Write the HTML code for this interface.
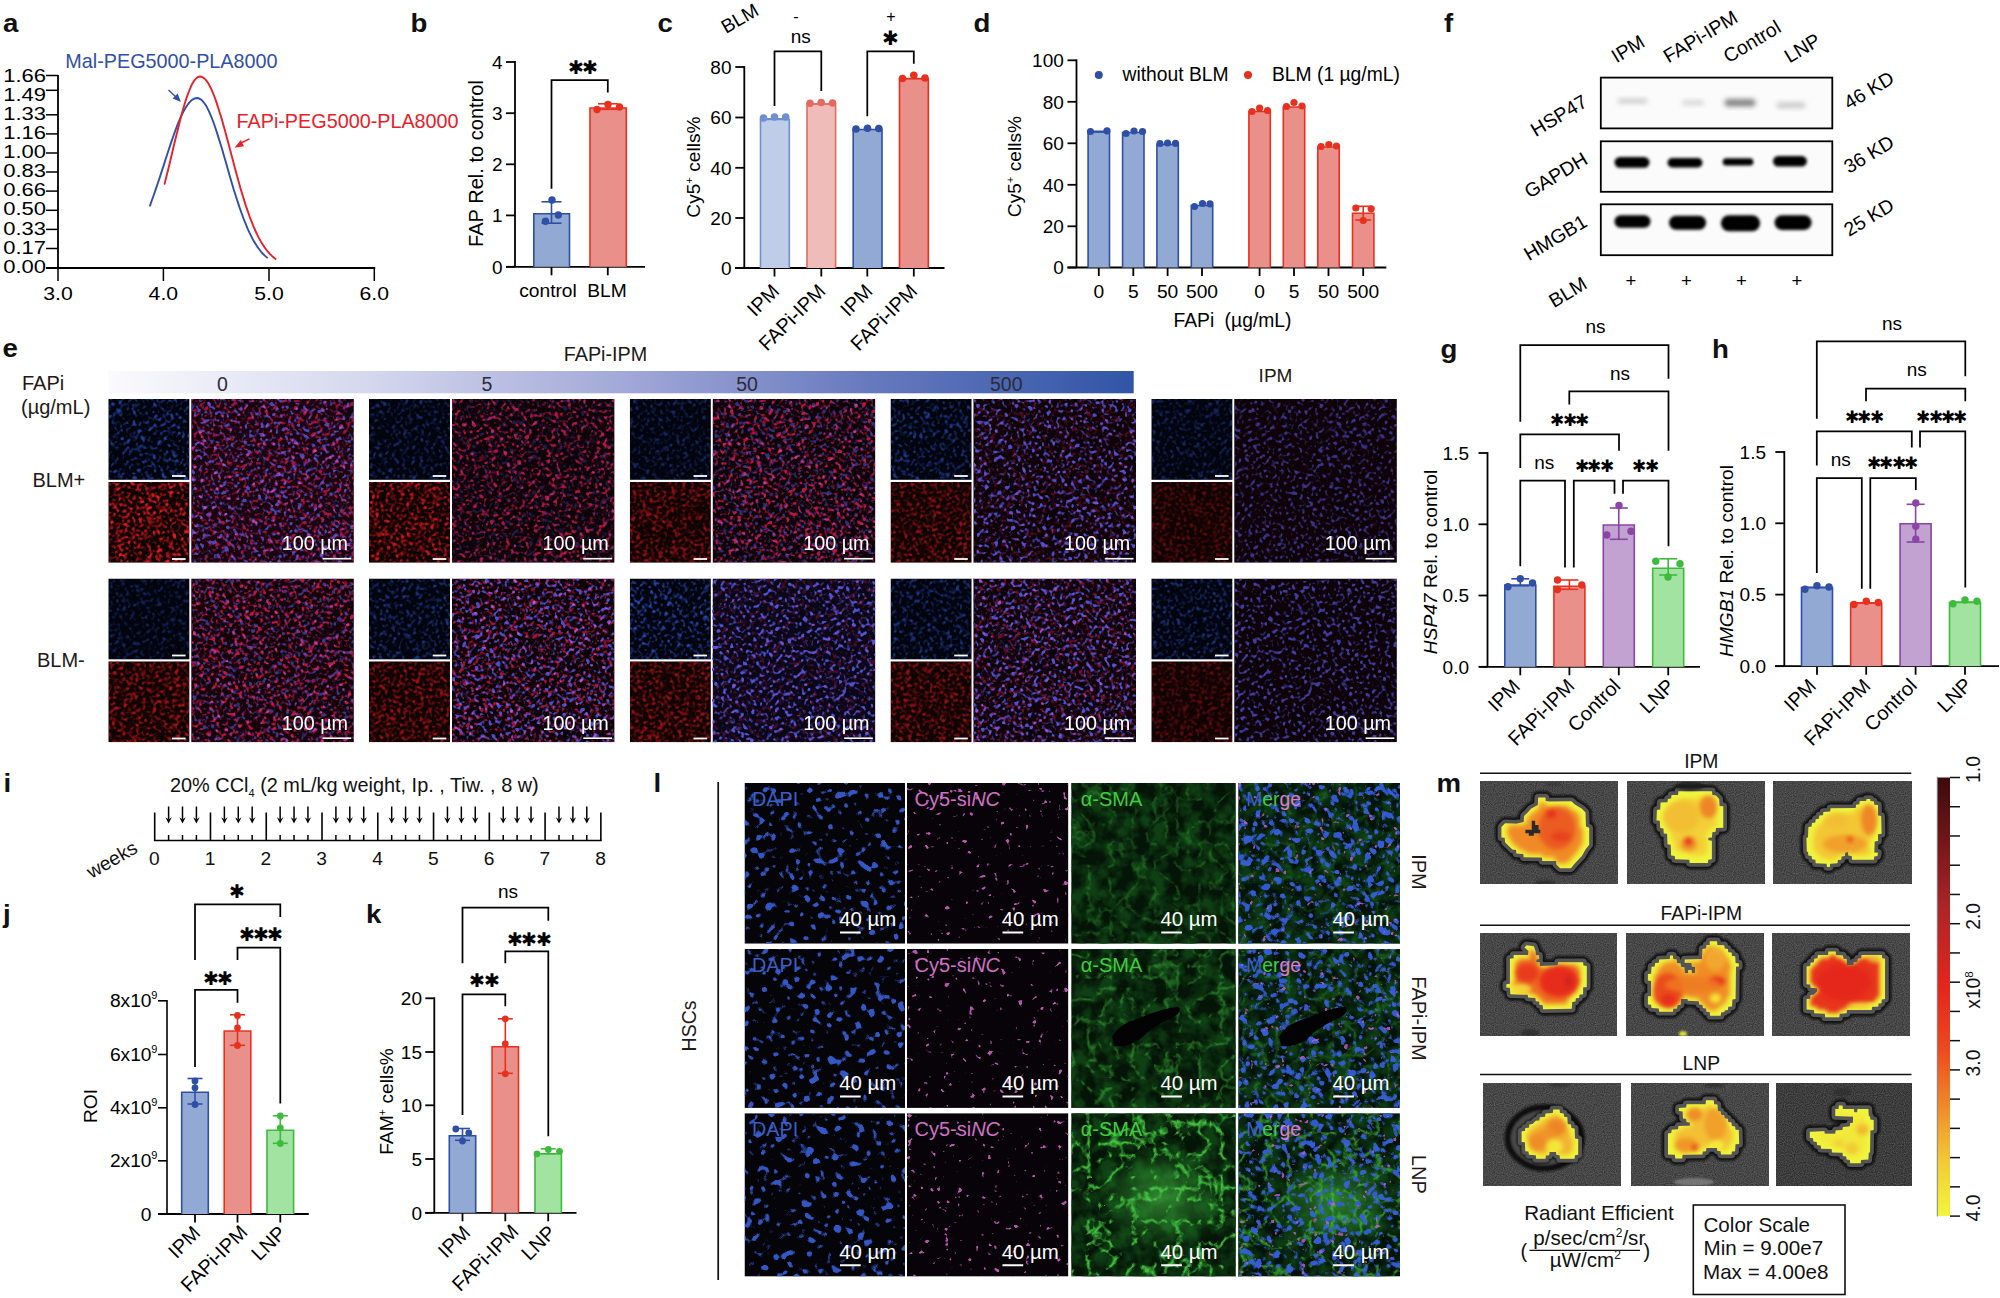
<!DOCTYPE html>
<html><head><meta charset="utf-8"><title>Figure</title>
<style>html,body{margin:0;padding:0;background:#fff}svg{display:block}text{font-family:'Liberation Sans',sans-serif}</style>
</head><body>
<svg width="2000" height="1298" viewBox="0 0 2000 1298">
<rect width="2000" height="1298" fill="#fff"/>
<line x1="58.00" y1="75.00" x2="58.00" y2="268.00" stroke="#000" stroke-width="1.8" />
<line x1="46.00" y1="268.00" x2="375.20" y2="268.00" stroke="#000" stroke-width="1.9" />
<line x1="46.00" y1="75.50" x2="58.00" y2="75.50" stroke="#000" stroke-width="1.5" />
<line x1="46.00" y1="90.30" x2="58.00" y2="90.30" stroke="#000" stroke-width="1.5" />
<line x1="46.00" y1="114.80" x2="58.00" y2="114.80" stroke="#000" stroke-width="1.5" />
<line x1="46.00" y1="133.90" x2="58.00" y2="133.90" stroke="#000" stroke-width="1.5" />
<line x1="46.00" y1="153.00" x2="58.00" y2="153.00" stroke="#000" stroke-width="1.5" />
<line x1="46.00" y1="172.00" x2="58.00" y2="172.00" stroke="#000" stroke-width="1.5" />
<line x1="46.00" y1="191.10" x2="58.00" y2="191.10" stroke="#000" stroke-width="1.5" />
<line x1="46.00" y1="210.30" x2="58.00" y2="210.30" stroke="#000" stroke-width="1.5" />
<line x1="46.00" y1="229.40" x2="58.00" y2="229.40" stroke="#000" stroke-width="1.5" />
<line x1="46.00" y1="248.50" x2="58.00" y2="248.50" stroke="#000" stroke-width="1.5" />
<text x="0" y="0" font-size="18.8" fill="#000" transform="translate(3.20 82.10) scale(1.17 1)" >1.66</text>
<text x="0" y="0" font-size="18.8" fill="#000" transform="translate(3.20 101.15) scale(1.17 1)" >1.49</text>
<text x="0" y="0" font-size="18.8" fill="#000" transform="translate(3.20 120.20) scale(1.17 1)" >1.33</text>
<text x="0" y="0" font-size="18.8" fill="#000" transform="translate(3.20 139.25) scale(1.17 1)" >1.16</text>
<text x="0" y="0" font-size="18.8" fill="#000" transform="translate(3.20 158.30) scale(1.17 1)" >1.00</text>
<text x="0" y="0" font-size="18.8" fill="#000" transform="translate(3.20 177.35) scale(1.17 1)" >0.83</text>
<text x="0" y="0" font-size="18.8" fill="#000" transform="translate(3.20 196.40) scale(1.17 1)" >0.66</text>
<text x="0" y="0" font-size="18.8" fill="#000" transform="translate(3.20 215.45) scale(1.17 1)" >0.50</text>
<text x="0" y="0" font-size="18.8" fill="#000" transform="translate(3.20 234.50) scale(1.17 1)" >0.33</text>
<text x="0" y="0" font-size="18.8" fill="#000" transform="translate(3.20 253.55) scale(1.17 1)" >0.17</text>
<text x="0" y="0" font-size="18.8" fill="#000" transform="translate(3.20 272.60) scale(1.17 1)" >0.00</text>
<line x1="58.00" y1="268.00" x2="58.00" y2="281.00" stroke="#000" stroke-width="1.5" />
<text x="0" y="0" font-size="18.6" fill="#000" transform="translate(43.20 299.60) scale(1.14 1)" >3.0</text>
<line x1="163.40" y1="268.00" x2="163.40" y2="281.00" stroke="#000" stroke-width="1.5" />
<text x="0" y="0" font-size="18.6" fill="#000" transform="translate(148.60 299.60) scale(1.14 1)" >4.0</text>
<line x1="269.00" y1="268.00" x2="269.00" y2="281.00" stroke="#000" stroke-width="1.5" />
<text x="0" y="0" font-size="18.6" fill="#000" transform="translate(254.20 299.60) scale(1.14 1)" >5.0</text>
<line x1="374.30" y1="268.00" x2="374.30" y2="281.00" stroke="#000" stroke-width="1.5" />
<text x="0" y="0" font-size="18.6" fill="#000" transform="translate(359.50 299.60) scale(1.14 1)" >6.0</text>
<path d="M150.0 205.6 L151.9 200.3 L153.9 194.8 L155.8 189.1 L157.8 183.3 L159.8 177.4 L161.7 171.4 L163.7 165.4 L165.6 159.3 L167.6 153.3 L169.5 147.4 L171.4 141.6 L173.4 136.0 L175.3 130.6 L177.3 125.4 L179.2 120.6 L181.2 116.2 L183.2 112.2 L185.1 108.6 L187.1 105.5 L189.0 102.9 L190.9 100.8 L192.9 99.3 L194.8 98.4 L196.8 98.0 L198.8 98.3 L200.7 99.3 L202.7 101.1 L204.6 103.5 L206.6 106.6 L208.5 110.4 L210.4 114.7 L212.4 119.5 L214.3 124.8 L216.3 130.6 L218.2 136.6 L220.2 143.0 L222.2 149.5 L224.1 156.2 L226.1 163.0 L228.0 169.8 L229.9 176.5 L231.9 183.2 L233.8 189.7 L235.8 196.0 L237.8 202.1 L239.7 207.9 L241.7 213.5 L243.6 218.8 L245.6 223.7 L247.5 228.3 L249.4 232.6 L251.4 236.6 L253.3 240.2 L255.3 243.6 L257.2 246.6 L259.2 249.3 L261.1 251.8 L263.1 254.0 L265.1 255.9 L267.0 257.6" fill="none" stroke="#2f50a8" stroke-width="1.9" stroke-linecap="round" stroke-linejoin="round"/>
<path d="M164.6 183.9 L166.4 176.5 L168.3 169.0 L170.2 161.3 L172.0 153.5 L173.8 145.8 L175.7 138.0 L177.6 130.4 L179.4 123.1 L181.2 116.0 L183.1 109.2 L184.9 103.0 L186.8 97.2 L188.7 92.0 L190.5 87.5 L192.3 83.7 L194.2 80.7 L196.1 78.5 L197.9 77.1 L199.8 76.5 L201.6 76.8 L203.4 77.7 L205.3 79.4 L207.2 81.7 L209.0 84.6 L210.9 88.2 L212.7 92.3 L214.6 97.0 L216.4 102.1 L218.2 107.7 L220.1 113.7 L222.0 119.9 L223.8 126.5 L225.7 133.2 L227.5 140.1 L229.4 147.1 L231.2 154.1 L233.1 161.1 L234.9 168.1 L236.8 174.9 L238.6 181.6 L240.4 188.1 L242.3 194.3 L244.2 200.4 L246.0 206.1 L247.9 211.6 L249.7 216.8 L251.6 221.7 L253.4 226.2 L255.3 230.5 L257.1 234.4 L259.0 238.1 L260.8 241.4 L262.7 244.5 L264.5 247.2 L266.4 249.8 L268.2 252.0 L270.1 254.1 L271.9 255.9 L273.8 257.5 L275.6 258.9" fill="none" stroke="#e8202a" stroke-width="1.9" stroke-linecap="round" stroke-linejoin="round"/>
<text x="65.30" y="68.30" font-size="19.8" fill="#2f50a8" >Mal-PEG5000-PLA8000</text>
<text x="236.50" y="128.00" font-size="19.8" fill="#e8202a" >FAPi-PEG5000-PLA8000</text>
<line x1="168.50" y1="90.00" x2="176.50" y2="97.50" stroke="#2f50a8" stroke-width="1.4" />
<path d="M181 102 L172.6 98.6 L177.6 93.4 Z" fill="#2f50a8"/>
<line x1="249.50" y1="138.80" x2="242.00" y2="142.50" stroke="#e8202a" stroke-width="1.4" />
<path d="M234.5 147.8 L240.8 140 L244 146.3 Z" fill="#e8202a"/>
<line x1="515.00" y1="61.10" x2="515.00" y2="266.80" stroke="#000" stroke-width="1.8" />
<line x1="506.00" y1="62.00" x2="515.00" y2="62.00" stroke="#000" stroke-width="1.8" />
<text x="502.50" y="68.75" font-size="19.0" fill="#000" text-anchor="end" >4</text>
<line x1="506.00" y1="113.20" x2="515.00" y2="113.20" stroke="#000" stroke-width="1.8" />
<text x="502.50" y="119.95" font-size="19.0" fill="#000" text-anchor="end" >3</text>
<line x1="506.00" y1="164.30" x2="515.00" y2="164.30" stroke="#000" stroke-width="1.8" />
<text x="502.50" y="171.05" font-size="19.0" fill="#000" text-anchor="end" >2</text>
<line x1="506.00" y1="215.40" x2="515.00" y2="215.40" stroke="#000" stroke-width="1.8" />
<text x="502.50" y="222.15" font-size="19.0" fill="#000" text-anchor="end" >1</text>
<line x1="506.00" y1="266.80" x2="515.00" y2="266.80" stroke="#000" stroke-width="1.8" />
<text x="502.50" y="273.55" font-size="19.0" fill="#000" text-anchor="end" >0</text>
<line x1="506.00" y1="266.80" x2="645.00" y2="266.80" stroke="#000" stroke-width="1.8" />
<line x1="551.50" y1="266.80" x2="551.50" y2="275.30" stroke="#000" stroke-width="1.8" />
<line x1="607.80" y1="266.80" x2="607.80" y2="275.30" stroke="#000" stroke-width="1.8" />
<text x="0" y="0" font-size="19.3" fill="#000" text-anchor="middle" transform="translate(483.00 163.50) rotate(-90) scale(1.04 1)" >FAP Rel. to control</text>
<rect x="533.80" y="213.80" width="35.70" height="53.00" fill="#92a9d4"/>
<path d="M533.80 266.80V213.80H569.50V266.80" fill="none" stroke="#2f4fa6" stroke-width="1.6" />
<rect x="590.00" y="108.00" width="36.30" height="158.80" fill="#e9908a"/>
<path d="M590.00 266.80V108.00H626.30V266.80" fill="none" stroke="#e8301f" stroke-width="1.6" />
<line x1="551.50" y1="201.80" x2="551.50" y2="223.20" stroke="#2f4fa6" stroke-width="1.6" />
<line x1="541.50" y1="201.80" x2="561.50" y2="201.80" stroke="#2f4fa6" stroke-width="1.6" />
<line x1="541.50" y1="223.20" x2="561.50" y2="223.20" stroke="#2f4fa6" stroke-width="1.6" />
<circle cx="552.00" cy="200.00" r="3.7" fill="#2f4fa6" />
<circle cx="558.30" cy="215.00" r="3.7" fill="#2f4fa6" />
<circle cx="545.50" cy="221.30" r="3.7" fill="#2f4fa6" />
<line x1="608.00" y1="103.80" x2="608.00" y2="109.30" stroke="#e8301f" stroke-width="1.6" />
<line x1="598.00" y1="103.80" x2="618.00" y2="103.80" stroke="#e8301f" stroke-width="1.6" />
<line x1="598.00" y1="109.30" x2="618.00" y2="109.30" stroke="#e8301f" stroke-width="1.6" />
<circle cx="597.00" cy="109.50" r="3.7" fill="#e8301f" />
<circle cx="608.00" cy="104.50" r="3.7" fill="#e8301f" />
<circle cx="619.50" cy="107.00" r="3.7" fill="#e8301f" />
<path d="M551.50 188.80V80.00H607.80V92.50" fill="none" stroke="#000" stroke-width="1.75" stroke-linejoin="miter"/>
<text x="567.87" y="74.33" font-size="19" fill="#000" font-family="'DejaVu Sans', sans-serif" letter-spacing="-1.62">✱✱</text>
<text x="548.00" y="296.50" font-size="19.2" fill="#000" text-anchor="middle" >control</text>
<text x="607.00" y="296.50" font-size="19.2" fill="#000" text-anchor="middle" >BLM</text>
<line x1="744.30" y1="66.10" x2="744.30" y2="268.00" stroke="#000" stroke-width="1.8" />
<line x1="735.30" y1="67.00" x2="744.30" y2="67.00" stroke="#000" stroke-width="1.8" />
<text x="731.50" y="73.75" font-size="19.0" fill="#000" text-anchor="end" >80</text>
<line x1="735.30" y1="117.50" x2="744.30" y2="117.50" stroke="#000" stroke-width="1.8" />
<text x="731.50" y="124.25" font-size="19.0" fill="#000" text-anchor="end" >60</text>
<line x1="735.30" y1="167.80" x2="744.30" y2="167.80" stroke="#000" stroke-width="1.8" />
<text x="731.50" y="174.55" font-size="19.0" fill="#000" text-anchor="end" >40</text>
<line x1="735.30" y1="218.00" x2="744.30" y2="218.00" stroke="#000" stroke-width="1.8" />
<text x="731.50" y="224.75" font-size="19.0" fill="#000" text-anchor="end" >20</text>
<line x1="735.30" y1="268.00" x2="744.30" y2="268.00" stroke="#000" stroke-width="1.8" />
<text x="731.50" y="274.75" font-size="19.0" fill="#000" text-anchor="end" >0</text>
<line x1="735.00" y1="268.00" x2="944.50" y2="268.00" stroke="#000" stroke-width="1.8" />
<line x1="774.50" y1="268.00" x2="774.50" y2="276.50" stroke="#000" stroke-width="1.8" />
<line x1="821.30" y1="268.00" x2="821.30" y2="276.50" stroke="#000" stroke-width="1.8" />
<line x1="867.30" y1="268.00" x2="867.30" y2="276.50" stroke="#000" stroke-width="1.8" />
<line x1="913.80" y1="268.00" x2="913.80" y2="276.50" stroke="#000" stroke-width="1.8" />
<text x="0" y="0" font-size="19.2" fill="#000" text-anchor="middle" transform="translate(699.50 167.00) rotate(-90)" >Cy5<tspan font-size="11" dy="-7">+</tspan><tspan dy="7"> cells%</tspan></text>
<rect x="760.50" y="119.50" width="28.80" height="148.50" fill="#bfcde8"/>
<path d="M760.50 268.00V119.50H789.30V268.00" fill="none" stroke="#6f8fd2" stroke-width="1.6" />
<rect x="807.00" y="104.00" width="28.60" height="164.00" fill="#f0bcb9"/>
<path d="M807.00 268.00V104.00H835.60V268.00" fill="none" stroke="#e26a62" stroke-width="1.6" />
<rect x="853.20" y="129.50" width="28.80" height="138.50" fill="#92a9d4"/>
<path d="M853.20 268.00V129.50H882.00V268.00" fill="none" stroke="#2f4fa6" stroke-width="1.6" />
<rect x="899.50" y="78.70" width="28.80" height="189.30" fill="#e9908a"/>
<path d="M899.50 268.00V78.70H928.30V268.00" fill="none" stroke="#e8301f" stroke-width="1.6" />
<line x1="763.50" y1="118.70" x2="785.50" y2="118.70" stroke="#6f8fd2" stroke-width="1.4" />
<circle cx="763.50" cy="118.00" r="3.8" fill="#6f8fd2" />
<circle cx="774.50" cy="117.00" r="3.8" fill="#6f8fd2" />
<circle cx="785.70" cy="117.00" r="3.8" fill="#6f8fd2" />
<line x1="810.00" y1="104.00" x2="832.50" y2="104.00" stroke="#e26a62" stroke-width="1.4" />
<circle cx="810.00" cy="103.20" r="3.8" fill="#e26a62" />
<circle cx="821.20" cy="102.50" r="3.8" fill="#e26a62" />
<circle cx="832.50" cy="103.00" r="3.8" fill="#e26a62" />
<circle cx="856.00" cy="129.00" r="3.8" fill="#2f4fa6" />
<circle cx="867.50" cy="128.30" r="3.8" fill="#2f4fa6" />
<circle cx="878.80" cy="128.50" r="3.8" fill="#2f4fa6" />
<line x1="902.50" y1="78.50" x2="925.00" y2="78.50" stroke="#e8301f" stroke-width="1.4" />
<circle cx="902.50" cy="78.50" r="3.8" fill="#e8301f" />
<circle cx="913.80" cy="75.20" r="3.8" fill="#e8301f" />
<circle cx="925.00" cy="78.00" r="3.8" fill="#e8301f" />
<path d="M774.50 106.00V51.30H821.30V91.00" fill="none" stroke="#000" stroke-width="1.75" stroke-linejoin="miter"/>
<path d="M867.30 116.20V51.30H913.80V63.80" fill="none" stroke="#000" stroke-width="1.75" stroke-linejoin="miter"/>
<text x="800.80" y="43.00" font-size="19" fill="#000" text-anchor="middle" >ns</text>
<text x="882.40" y="45.40" font-size="20" fill="#000" font-family="'DejaVu Sans', sans-serif" letter-spacing="-2.76">✱</text>
<text x="796.00" y="21.50" font-size="16" fill="#000" text-anchor="middle" >-</text>
<text x="891.00" y="21.50" font-size="16" fill="#000" text-anchor="middle" >+</text>
<text x="0" y="0" font-size="19.2" fill="#000" transform="translate(726.00 34.00) rotate(-30)" >BLM</text>
<text x="0" y="0" font-size="20" fill="#000" text-anchor="end" transform="translate(780.50 292.40) rotate(-45)" >IPM</text>
<text x="0" y="0" font-size="20" fill="#000" text-anchor="end" transform="translate(826.70 292.40) rotate(-45)" >FAPi-IPM</text>
<text x="0" y="0" font-size="20" fill="#000" text-anchor="end" transform="translate(873.70 292.40) rotate(-45)" >IPM</text>
<text x="0" y="0" font-size="20" fill="#000" text-anchor="end" transform="translate(918.50 292.40) rotate(-45)" >FAPi-IPM</text>
<line x1="1076.50" y1="59.40" x2="1076.50" y2="267.50" stroke="#000" stroke-width="1.8" />
<line x1="1067.50" y1="60.30" x2="1076.50" y2="60.30" stroke="#000" stroke-width="1.8" />
<text x="1063.80" y="67.05" font-size="19.0" fill="#000" text-anchor="end" >100</text>
<line x1="1067.50" y1="101.80" x2="1076.50" y2="101.80" stroke="#000" stroke-width="1.8" />
<text x="1063.80" y="108.55" font-size="19.0" fill="#000" text-anchor="end" >80</text>
<line x1="1067.50" y1="143.30" x2="1076.50" y2="143.30" stroke="#000" stroke-width="1.8" />
<text x="1063.80" y="150.05" font-size="19.0" fill="#000" text-anchor="end" >60</text>
<line x1="1067.50" y1="184.80" x2="1076.50" y2="184.80" stroke="#000" stroke-width="1.8" />
<text x="1063.80" y="191.55" font-size="19.0" fill="#000" text-anchor="end" >40</text>
<line x1="1067.50" y1="226.30" x2="1076.50" y2="226.30" stroke="#000" stroke-width="1.8" />
<text x="1063.80" y="233.05" font-size="19.0" fill="#000" text-anchor="end" >20</text>
<line x1="1067.50" y1="267.50" x2="1076.50" y2="267.50" stroke="#000" stroke-width="1.8" />
<text x="1063.80" y="274.25" font-size="19.0" fill="#000" text-anchor="end" >0</text>
<line x1="1067.50" y1="267.50" x2="1386.30" y2="267.50" stroke="#000" stroke-width="1.8" />
<line x1="1098.80" y1="267.50" x2="1098.80" y2="276.00" stroke="#000" stroke-width="1.8" />
<line x1="1133.30" y1="267.50" x2="1133.30" y2="276.00" stroke="#000" stroke-width="1.8" />
<line x1="1167.60" y1="267.50" x2="1167.60" y2="276.00" stroke="#000" stroke-width="1.8" />
<line x1="1202.00" y1="267.50" x2="1202.00" y2="276.00" stroke="#000" stroke-width="1.8" />
<line x1="1259.60" y1="267.50" x2="1259.60" y2="276.00" stroke="#000" stroke-width="1.8" />
<line x1="1294.00" y1="267.50" x2="1294.00" y2="276.00" stroke="#000" stroke-width="1.8" />
<line x1="1328.50" y1="267.50" x2="1328.50" y2="276.00" stroke="#000" stroke-width="1.8" />
<line x1="1363.20" y1="267.50" x2="1363.20" y2="276.00" stroke="#000" stroke-width="1.8" />
<text x="0" y="0" font-size="19.2" fill="#000" text-anchor="middle" transform="translate(1021.00 166.50) rotate(-90)" >Cy5<tspan font-size="11" dy="-7">+</tspan><tspan dy="7"> cells%</tspan></text>
<rect x="1088.10" y="132.00" width="21.40" height="135.50" fill="#92a9d4"/>
<path d="M1088.10 267.50V132.00H1109.50V267.50" fill="none" stroke="#2f4fa6" stroke-width="1.6" />
<rect x="1122.60" y="132.50" width="21.40" height="135.00" fill="#92a9d4"/>
<path d="M1122.60 267.50V132.50H1144.00V267.50" fill="none" stroke="#2f4fa6" stroke-width="1.6" />
<rect x="1156.90" y="144.50" width="21.40" height="123.00" fill="#92a9d4"/>
<path d="M1156.90 267.50V144.50H1178.30V267.50" fill="none" stroke="#2f4fa6" stroke-width="1.6" />
<rect x="1191.30" y="205.50" width="21.40" height="62.00" fill="#92a9d4"/>
<path d="M1191.30 267.50V205.50H1212.70V267.50" fill="none" stroke="#2f4fa6" stroke-width="1.6" />
<rect x="1248.90" y="111.50" width="21.40" height="156.00" fill="#e9908a"/>
<path d="M1248.90 267.50V111.50H1270.30V267.50" fill="none" stroke="#e8301f" stroke-width="1.6" />
<rect x="1283.30" y="107.00" width="21.40" height="160.50" fill="#e9908a"/>
<path d="M1283.30 267.50V107.00H1304.70V267.50" fill="none" stroke="#e8301f" stroke-width="1.6" />
<rect x="1317.80" y="147.00" width="21.40" height="120.50" fill="#e9908a"/>
<path d="M1317.80 267.50V147.00H1339.20V267.50" fill="none" stroke="#e8301f" stroke-width="1.6" />
<rect x="1352.50" y="213.30" width="21.40" height="54.20" fill="#e9908a"/>
<path d="M1352.50 267.50V213.30H1373.90V267.50" fill="none" stroke="#e8301f" stroke-width="1.6" />
<circle cx="1090.50" cy="131.50" r="3.6" fill="#2f4fa6" />
<circle cx="1107.00" cy="130.80" r="3.6" fill="#2f4fa6" />
<line x1="1090.50" y1="131.50" x2="1107.00" y2="131.50" stroke="#2f4fa6" stroke-width="2" />
<circle cx="1126.00" cy="133.50" r="3.6" fill="#2f4fa6" />
<circle cx="1134.00" cy="131.00" r="3.6" fill="#2f4fa6" />
<circle cx="1142.50" cy="131.50" r="3.6" fill="#2f4fa6" />
<circle cx="1160.00" cy="143.50" r="3.6" fill="#2f4fa6" />
<circle cx="1167.60" cy="143.00" r="3.6" fill="#2f4fa6" />
<circle cx="1175.50" cy="143.30" r="3.6" fill="#2f4fa6" />
<circle cx="1194.50" cy="206.50" r="3.6" fill="#2f4fa6" />
<circle cx="1202.50" cy="203.50" r="3.6" fill="#2f4fa6" />
<circle cx="1210.00" cy="203.80" r="3.6" fill="#2f4fa6" />
<circle cx="1252.00" cy="111.50" r="3.6" fill="#e8301f" />
<circle cx="1259.60" cy="108.00" r="3.6" fill="#e8301f" />
<circle cx="1267.50" cy="110.50" r="3.6" fill="#e8301f" />
<circle cx="1286.50" cy="106.50" r="3.6" fill="#e8301f" />
<circle cx="1294.00" cy="102.50" r="3.6" fill="#e8301f" />
<circle cx="1302.00" cy="106.00" r="3.6" fill="#e8301f" />
<circle cx="1321.00" cy="146.50" r="3.6" fill="#e8301f" />
<circle cx="1328.80" cy="144.50" r="3.6" fill="#e8301f" />
<circle cx="1336.50" cy="146.00" r="3.6" fill="#e8301f" />
<line x1="1363.20" y1="206.30" x2="1363.20" y2="220.00" stroke="#e8301f" stroke-width="1.6" />
<line x1="1355.20" y1="206.30" x2="1371.20" y2="206.30" stroke="#e8301f" stroke-width="1.6" />
<line x1="1355.20" y1="220.00" x2="1371.20" y2="220.00" stroke="#e8301f" stroke-width="1.6" />
<circle cx="1355.80" cy="208.00" r="3.6" fill="#e8301f" />
<circle cx="1371.20" cy="208.80" r="3.6" fill="#e8301f" />
<circle cx="1363.20" cy="220.50" r="3.6" fill="#e8301f" />
<text x="1098.80" y="297.50" font-size="19.2" fill="#000" text-anchor="middle" >0</text>
<text x="1133.30" y="297.50" font-size="19.2" fill="#000" text-anchor="middle" >5</text>
<text x="1167.60" y="297.50" font-size="19.2" fill="#000" text-anchor="middle" >50</text>
<text x="1202.00" y="297.50" font-size="19.2" fill="#000" text-anchor="middle" >500</text>
<text x="1259.60" y="297.50" font-size="19.2" fill="#000" text-anchor="middle" >0</text>
<text x="1294.00" y="297.50" font-size="19.2" fill="#000" text-anchor="middle" >5</text>
<text x="1328.50" y="297.50" font-size="19.2" fill="#000" text-anchor="middle" >50</text>
<text x="1363.20" y="297.50" font-size="19.2" fill="#000" text-anchor="middle" >500</text>
<text x="1232.50" y="326.50" font-size="19.3" fill="#000" text-anchor="middle" word-spacing="5">FAPi (µg/mL)</text>
<circle cx="1098.80" cy="75.00" r="4" fill="#2f4fa6" />
<text x="1122.50" y="81.30" font-size="19.3" fill="#000" >without BLM</text>
<circle cx="1248.00" cy="75.00" r="4" fill="#e8301f" />
<text x="1272.00" y="81.30" font-size="19.3" fill="#000" >BLM (1 µg/mL)</text>
<defs><filter id="bl2" x="-20%" y="-50%" width="140%" height="200%"><feGaussianBlur stdDeviation="1.6"/></filter><filter id="bl3" x="-20%" y="-60%" width="140%" height="220%"><feGaussianBlur stdDeviation="2.4"/></filter></defs>
<rect x="1600.80" y="77.60" width="231.50" height="50.80" fill="#fbfbfb" stroke="#000" stroke-width="1.8" />
<rect x="1600.80" y="141.30" width="231.50" height="50.50" fill="#fbfbfb" stroke="#000" stroke-width="1.8" />
<rect x="1600.80" y="204.30" width="231.50" height="50.90" fill="#fbfbfb" stroke="#000" stroke-width="1.8" />
<rect x="1617.5" y="98.5" width="30.0" height="5.0" rx="2.5" fill="#888" fill-opacity="0.4" filter="url(#bl3)"/>
<rect x="1682.0" y="100.3" width="22.0" height="5.0" rx="2.5" fill="#888" fill-opacity="0.33" filter="url(#bl3)"/>
<rect x="1724.5" y="99.0" width="31.0" height="7.5" rx="3.8" fill="#555" fill-opacity="0.7" filter="url(#bl3)"/>
<rect x="1776.5" y="102.3" width="29.0" height="6.0" rx="3.0" fill="#888" fill-opacity="0.42" filter="url(#bl3)"/>
<rect x="1614.5" y="156.9" width="35.0" height="10.9" rx="5.5" fill="#000" fill-opacity="1" filter="url(#bl2)"/>
<rect x="1667.5" y="158.1" width="35.0" height="9.4" rx="4.7" fill="#000" fill-opacity="1" filter="url(#bl2)"/>
<rect x="1722.7" y="158.3" width="30.7" height="7.3" rx="3.6" fill="#000" fill-opacity="1" filter="url(#bl2)"/>
<rect x="1773.0" y="156.1" width="33.9" height="10.4" rx="5.2" fill="#000" fill-opacity="1" filter="url(#bl2)"/>
<rect x="1614.5" y="215.2" width="36.0" height="12.5" rx="6.2" fill="#000" fill-opacity="1" filter="url(#bl2)"/>
<rect x="1669.0" y="215.8" width="37.1" height="14.0" rx="7.0" fill="#000" fill-opacity="1" filter="url(#bl2)"/>
<rect x="1720.9" y="215.2" width="39.2" height="16.1" rx="8.1" fill="#000" fill-opacity="1" filter="url(#bl2)"/>
<rect x="1774.5" y="215.3" width="37.1" height="14.6" rx="7.3" fill="#000" fill-opacity="1" filter="url(#bl2)"/>
<text x="0" y="0" font-size="19.5" fill="#000" transform="translate(1616.50 63.50) rotate(-31)" >IPM</text>
<text x="0" y="0" font-size="19.5" fill="#000" transform="translate(1668.50 63.50) rotate(-31)" >FAPi-IPM</text>
<text x="0" y="0" font-size="19.5" fill="#000" transform="translate(1728.50 63.50) rotate(-31)" >Control</text>
<text x="0" y="0" font-size="19.5" fill="#000" transform="translate(1789.50 63.50) rotate(-31)" >LNP</text>
<text x="0" y="0" font-size="19.5" fill="#000" text-anchor="end" transform="translate(1588.80 105.30) rotate(-31)" >HSP47</text>
<text x="0" y="0" font-size="19.5" fill="#000" text-anchor="end" transform="translate(1589.00 163.00) rotate(-31)" >GAPDH</text>
<text x="0" y="0" font-size="19.5" fill="#000" text-anchor="end" transform="translate(1588.50 225.50) rotate(-31)" >HMGB1</text>
<text x="0" y="0" font-size="19.5" fill="#000" text-anchor="end" transform="translate(1588.50 287.50) rotate(-31)" >BLM</text>
<text x="0" y="0" font-size="19.5" fill="#000" transform="translate(1849.00 110.00) rotate(-31)" >46 KD</text>
<text x="0" y="0" font-size="19.5" fill="#000" transform="translate(1849.00 174.00) rotate(-31)" >36 KD</text>
<text x="0" y="0" font-size="19.5" fill="#000" transform="translate(1849.00 237.00) rotate(-31)" >25 KD</text>
<text x="1630.80" y="287.00" font-size="18.5" fill="#000" text-anchor="middle" >+</text>
<text x="1686.30" y="287.00" font-size="18.5" fill="#000" text-anchor="middle" >+</text>
<text x="1741.50" y="287.00" font-size="18.5" fill="#000" text-anchor="middle" >+</text>
<text x="1797.00" y="287.00" font-size="18.5" fill="#000" text-anchor="middle" >+</text>
<defs>
<linearGradient id="gbar" x1="0" x2="1" y1="0" y2="0"><stop offset="0" stop-color="#fbfbfd"/><stop offset="0.25" stop-color="#d5d8ee"/><stop offset="0.5" stop-color="#a3a9d8"/><stop offset="0.75" stop-color="#6578bd"/><stop offset="1" stop-color="#3155a6"/></linearGradient>
<filter id="eb" x="-5%" y="-5%" width="110%" height="110%" color-interpolation-filters="sRGB">
 <feTurbulence type="fractalNoise" baseFrequency="0.7" numOctaves="1" seed="3"/><feGaussianBlur stdDeviation="0.8"/>
 <feColorMatrix type="matrix" values="0 0 0 0 0.18  0 0 0 0 0.36  0 0 0 0 0.88  20 0 0 0 -9.98"/>
</filter>
<filter id="er" x="-5%" y="-5%" width="110%" height="110%" color-interpolation-filters="sRGB">
 <feTurbulence type="fractalNoise" baseFrequency="0.7" numOctaves="1" seed="11"/><feGaussianBlur stdDeviation="0.8"/>
 <feColorMatrix type="matrix" values="0 0 0 0 0.88  0 0 0 0 0.10  0 0 0 0 0.12  20 0 0 0 -9.84"/>
</filter>
<filter id="emr" x="-5%" y="-5%" width="110%" height="110%" color-interpolation-filters="sRGB">
 <feTurbulence type="fractalNoise" baseFrequency="0.55" numOctaves="1" seed="5"/>
 <feGaussianBlur stdDeviation="1.2"/>
 <feColorMatrix type="matrix" values="0 0 0 0 0.92  0 0 0 0 0.10  0 0 0 0 0.32  22 0 0 0 -11.154"/>
</filter>
<filter id="emb" x="-5%" y="-5%" width="110%" height="110%" color-interpolation-filters="sRGB">
 <feTurbulence type="fractalNoise" baseFrequency="0.55" numOctaves="1" seed="5"/>
 <feGaussianBlur stdDeviation="1.2"/>
 <feColorMatrix type="matrix" values="0 0 0 0 0.28  0 0 0 0 0.30  0 0 0 0 0.82  0 22 0 0 -11.198"/>
</filter>
</defs>
<text x="22.00" y="390.30" font-size="20" fill="#231815" >FAPi</text>
<text x="21.00" y="413.70" font-size="20" fill="#231815" >(µg/mL)</text>
<text x="32.50" y="487.00" font-size="20" fill="#231815" >BLM+</text>
<text x="37.00" y="667.00" font-size="20" fill="#231815" >BLM-</text>
<text x="605.50" y="361.00" font-size="19.8" fill="#231815" text-anchor="middle" >FAPi-IPM</text>
<text x="1275.50" y="382.00" font-size="19" fill="#231815" text-anchor="middle" >IPM</text>
<rect x="108.30" y="371.00" width="1025.40" height="22.30" fill="url(#gbar)" />
<text x="222.50" y="390.50" font-size="19.5" fill="#2b2b3a" text-anchor="middle" >0</text>
<text x="487.00" y="390.50" font-size="19.5" fill="#2b2b3a" text-anchor="middle" >5</text>
<text x="747.00" y="390.50" font-size="19.5" fill="#2b2b3a" text-anchor="middle" >50</text>
<text x="1006.30" y="390.50" font-size="19.5" fill="#2b2b3a" text-anchor="middle" >500</text>
<clipPath id="eall"><rect x="108.3" y="399" width="245.6" height="163.8"/><rect x="369" y="399" width="245.6" height="163.8"/><rect x="629.8" y="399" width="245.6" height="163.8"/><rect x="890.5" y="399" width="245.6" height="163.8"/><rect x="1151.3" y="399" width="245.6" height="163.8"/><rect x="108.3" y="578.5" width="245.6" height="163.8"/><rect x="369" y="578.5" width="245.6" height="163.8"/><rect x="629.8" y="578.5" width="245.6" height="163.8"/><rect x="890.5" y="578.5" width="245.6" height="163.8"/><rect x="1151.3" y="578.5" width="245.6" height="163.8"/></clipPath><g clip-path="url(#eall)">
<rect x="108.30" y="399.00" width="81.00" height="80.80" fill="#03050e" />
<clipPath id="fc1"><rect x="108.30" y="399.00" width="81.00" height="80.80"/></clipPath>
<g clip-path="url(#fc1)"><rect x="108.30" y="399.00" width="81.00" height="80.80" fill="#000" filter="url(#eb)" opacity="0.6779999999999999"/></g>
<rect x="108.30" y="482.00" width="81.00" height="80.80" fill="#100303" />
<clipPath id="fc2"><rect x="108.30" y="482.00" width="81.00" height="80.80"/></clipPath>
<g clip-path="url(#fc2)"><rect x="108.30" y="482.00" width="81.00" height="80.80" fill="#000" filter="url(#er)" opacity="1"/></g>
<rect x="191.30" y="399.00" width="162.60" height="163.80" fill="#180510" />
<clipPath id="fc3"><rect x="191.30" y="399.00" width="162.60" height="163.80"/></clipPath>
<g clip-path="url(#fc3)"><rect x="191.30" y="399.00" width="162.60" height="163.80" fill="#000" filter="url(#emr)" opacity="0.68"/></g>
<clipPath id="fc4"><rect x="191.30" y="399.00" width="162.60" height="163.80"/></clipPath>
<g clip-path="url(#fc4)" style="mix-blend-mode:screen"><rect x="191.30" y="399.00" width="162.60" height="163.80" fill="#000" filter="url(#emb)" opacity="0.86"/></g>
<line x1="172.00" y1="476.00" x2="185.60" y2="476.00" stroke="#fff" stroke-width="1.8" />
<line x1="172.00" y1="559.00" x2="185.60" y2="559.00" stroke="#fff" stroke-width="1.8" />
<line x1="322.60" y1="558.70" x2="351.30" y2="558.70" stroke="#fff" stroke-width="1.6" />
<text x="348.10" y="550.30" font-size="19.8" fill="#fff" text-anchor="end" >100 µm</text>
<rect x="369.00" y="399.00" width="81.00" height="80.80" fill="#03050e" />
<clipPath id="fc5"><rect x="369.00" y="399.00" width="81.00" height="80.80"/></clipPath>
<g clip-path="url(#fc5)"><rect x="369.00" y="399.00" width="81.00" height="80.80" fill="#000" filter="url(#eb)" opacity="0.45199999999999996"/></g>
<rect x="369.00" y="482.00" width="81.00" height="80.80" fill="#100303" />
<clipPath id="fc6"><rect x="369.00" y="482.00" width="81.00" height="80.80"/></clipPath>
<g clip-path="url(#fc6)"><rect x="369.00" y="482.00" width="81.00" height="80.80" fill="#000" filter="url(#er)" opacity="0.8480000000000001"/></g>
<rect x="452.00" y="399.00" width="162.60" height="163.80" fill="#0d0308" />
<clipPath id="fc7"><rect x="452.00" y="399.00" width="162.60" height="163.80"/></clipPath>
<g clip-path="url(#fc7)"><rect x="452.00" y="399.00" width="162.60" height="163.80" fill="#000" filter="url(#emr)" opacity="0.74"/></g>
<clipPath id="fc8"><rect x="452.00" y="399.00" width="162.60" height="163.80"/></clipPath>
<g clip-path="url(#fc8)" style="mix-blend-mode:screen"><rect x="452.00" y="399.00" width="162.60" height="163.80" fill="#000" filter="url(#emb)" opacity="0.3"/></g>
<line x1="432.70" y1="476.00" x2="446.30" y2="476.00" stroke="#fff" stroke-width="1.8" />
<line x1="432.70" y1="559.00" x2="446.30" y2="559.00" stroke="#fff" stroke-width="1.8" />
<line x1="583.30" y1="558.70" x2="612.00" y2="558.70" stroke="#fff" stroke-width="1.6" />
<text x="608.80" y="550.30" font-size="19.8" fill="#fff" text-anchor="end" >100 µm</text>
<rect x="629.80" y="399.00" width="81.00" height="80.80" fill="#03050e" />
<clipPath id="fc9"><rect x="629.80" y="399.00" width="81.00" height="80.80"/></clipPath>
<g clip-path="url(#fc9)"><rect x="629.80" y="399.00" width="81.00" height="80.80" fill="#000" filter="url(#eb)" opacity="0.40679999999999994"/></g>
<rect x="629.80" y="482.00" width="81.00" height="80.80" fill="#100303" />
<clipPath id="fc10"><rect x="629.80" y="482.00" width="81.00" height="80.80"/></clipPath>
<g clip-path="url(#fc10)"><rect x="629.80" y="482.00" width="81.00" height="80.80" fill="#000" filter="url(#er)" opacity="0.5830000000000001"/></g>
<rect x="712.80" y="399.00" width="162.60" height="163.80" fill="#0d0308" />
<clipPath id="fc11"><rect x="712.80" y="399.00" width="162.60" height="163.80"/></clipPath>
<g clip-path="url(#fc11)"><rect x="712.80" y="399.00" width="162.60" height="163.80" fill="#000" filter="url(#emr)" opacity="0.79"/></g>
<clipPath id="fc12"><rect x="712.80" y="399.00" width="162.60" height="163.80"/></clipPath>
<g clip-path="url(#fc12)" style="mix-blend-mode:screen"><rect x="712.80" y="399.00" width="162.60" height="163.80" fill="#000" filter="url(#emb)" opacity="0.58"/></g>
<line x1="693.50" y1="476.00" x2="707.10" y2="476.00" stroke="#fff" stroke-width="1.8" />
<line x1="693.50" y1="559.00" x2="707.10" y2="559.00" stroke="#fff" stroke-width="1.8" />
<line x1="844.10" y1="558.70" x2="872.80" y2="558.70" stroke="#fff" stroke-width="1.6" />
<text x="869.60" y="550.30" font-size="19.8" fill="#fff" text-anchor="end" >100 µm</text>
<rect x="890.50" y="399.00" width="81.00" height="80.80" fill="#03050e" />
<clipPath id="fc13"><rect x="890.50" y="399.00" width="81.00" height="80.80"/></clipPath>
<g clip-path="url(#fc13)"><rect x="890.50" y="399.00" width="81.00" height="80.80" fill="#000" filter="url(#eb)" opacity="0.565"/></g>
<rect x="890.50" y="482.00" width="81.00" height="80.80" fill="#100303" />
<clipPath id="fc14"><rect x="890.50" y="482.00" width="81.00" height="80.80"/></clipPath>
<g clip-path="url(#fc14)"><rect x="890.50" y="482.00" width="81.00" height="80.80" fill="#000" filter="url(#er)" opacity="0.5830000000000001"/></g>
<rect x="973.50" y="399.00" width="162.60" height="163.80" fill="#0d0308" />
<clipPath id="fc15"><rect x="973.50" y="399.00" width="162.60" height="163.80"/></clipPath>
<g clip-path="url(#fc15)"><rect x="973.50" y="399.00" width="162.60" height="163.80" fill="#000" filter="url(#emr)" opacity="0.28"/></g>
<clipPath id="fc16"><rect x="973.50" y="399.00" width="162.60" height="163.80"/></clipPath>
<g clip-path="url(#fc16)" style="mix-blend-mode:screen"><rect x="973.50" y="399.00" width="162.60" height="163.80" fill="#000" filter="url(#emb)" opacity="0.98"/></g>
<line x1="954.20" y1="476.00" x2="967.80" y2="476.00" stroke="#fff" stroke-width="1.8" />
<line x1="954.20" y1="559.00" x2="967.80" y2="559.00" stroke="#fff" stroke-width="1.8" />
<line x1="1104.80" y1="558.70" x2="1133.50" y2="558.70" stroke="#fff" stroke-width="1.6" />
<text x="1130.30" y="550.30" font-size="19.8" fill="#fff" text-anchor="end" >100 µm</text>
<rect x="1151.30" y="399.00" width="81.00" height="80.80" fill="#03050e" />
<clipPath id="fc17"><rect x="1151.30" y="399.00" width="81.00" height="80.80"/></clipPath>
<g clip-path="url(#fc17)"><rect x="1151.30" y="399.00" width="81.00" height="80.80" fill="#000" filter="url(#eb)" opacity="0.40679999999999994"/></g>
<rect x="1151.30" y="482.00" width="81.00" height="80.80" fill="#100303" />
<clipPath id="fc18"><rect x="1151.30" y="482.00" width="81.00" height="80.80"/></clipPath>
<g clip-path="url(#fc18)"><rect x="1151.30" y="482.00" width="81.00" height="80.80" fill="#000" filter="url(#er)" opacity="0.371"/></g>
<rect x="1234.30" y="399.00" width="162.60" height="163.80" fill="#0d0308" />
<clipPath id="fc19"><rect x="1234.30" y="399.00" width="162.60" height="163.80"/></clipPath>
<g clip-path="url(#fc19)"><rect x="1234.30" y="399.00" width="162.60" height="163.80" fill="#000" filter="url(#emr)" opacity="0.05"/></g>
<clipPath id="fc20"><rect x="1234.30" y="399.00" width="162.60" height="163.80"/></clipPath>
<g clip-path="url(#fc20)" style="mix-blend-mode:screen"><rect x="1234.30" y="399.00" width="162.60" height="163.80" fill="#000" filter="url(#emb)" opacity="0.63"/></g>
<line x1="1215.00" y1="476.00" x2="1228.60" y2="476.00" stroke="#fff" stroke-width="1.8" />
<line x1="1215.00" y1="559.00" x2="1228.60" y2="559.00" stroke="#fff" stroke-width="1.8" />
<line x1="1365.60" y1="558.70" x2="1394.30" y2="558.70" stroke="#fff" stroke-width="1.6" />
<text x="1391.10" y="550.30" font-size="19.8" fill="#fff" text-anchor="end" >100 µm</text>
<rect x="108.30" y="578.50" width="81.00" height="80.80" fill="#03050e" />
<clipPath id="fc21"><rect x="108.30" y="578.50" width="81.00" height="80.80"/></clipPath>
<g clip-path="url(#fc21)"><rect x="108.30" y="578.50" width="81.00" height="80.80" fill="#000" filter="url(#eb)" opacity="0.3729"/></g>
<rect x="108.30" y="661.50" width="81.00" height="80.80" fill="#100303" />
<clipPath id="fc22"><rect x="108.30" y="661.50" width="81.00" height="80.80"/></clipPath>
<g clip-path="url(#fc22)"><rect x="108.30" y="661.50" width="81.00" height="80.80" fill="#000" filter="url(#er)" opacity="0.6890000000000001"/></g>
<rect x="191.30" y="578.50" width="162.60" height="163.80" fill="#14040a" />
<clipPath id="fc23"><rect x="191.30" y="578.50" width="162.60" height="163.80"/></clipPath>
<g clip-path="url(#fc23)"><rect x="191.30" y="578.50" width="162.60" height="163.80" fill="#000" filter="url(#emr)" opacity="0.8"/></g>
<clipPath id="fc24"><rect x="191.30" y="578.50" width="162.60" height="163.80"/></clipPath>
<g clip-path="url(#fc24)" style="mix-blend-mode:screen"><rect x="191.30" y="578.50" width="162.60" height="163.80" fill="#000" filter="url(#emb)" opacity="0.63"/></g>
<line x1="172.00" y1="655.50" x2="185.60" y2="655.50" stroke="#fff" stroke-width="1.8" />
<line x1="172.00" y1="738.50" x2="185.60" y2="738.50" stroke="#fff" stroke-width="1.8" />
<line x1="322.60" y1="738.20" x2="351.30" y2="738.20" stroke="#fff" stroke-width="1.6" />
<text x="348.10" y="729.80" font-size="19.8" fill="#fff" text-anchor="end" >100 µm</text>
<rect x="369.00" y="578.50" width="81.00" height="80.80" fill="#03050e" />
<clipPath id="fc25"><rect x="369.00" y="578.50" width="81.00" height="80.80"/></clipPath>
<g clip-path="url(#fc25)"><rect x="369.00" y="578.50" width="81.00" height="80.80" fill="#000" filter="url(#eb)" opacity="0.5423999999999999"/></g>
<rect x="369.00" y="661.50" width="81.00" height="80.80" fill="#100303" />
<clipPath id="fc26"><rect x="369.00" y="661.50" width="81.00" height="80.80"/></clipPath>
<g clip-path="url(#fc26)"><rect x="369.00" y="661.50" width="81.00" height="80.80" fill="#000" filter="url(#er)" opacity="0.636"/></g>
<rect x="452.00" y="578.50" width="162.60" height="163.80" fill="#0d0308" />
<clipPath id="fc27"><rect x="452.00" y="578.50" width="162.60" height="163.80"/></clipPath>
<g clip-path="url(#fc27)"><rect x="452.00" y="578.50" width="162.60" height="163.80" fill="#000" filter="url(#emr)" opacity="0.67"/></g>
<clipPath id="fc28"><rect x="452.00" y="578.50" width="162.60" height="163.80"/></clipPath>
<g clip-path="url(#fc28)" style="mix-blend-mode:screen"><rect x="452.00" y="578.50" width="162.60" height="163.80" fill="#000" filter="url(#emb)" opacity="0.98"/></g>
<line x1="432.70" y1="655.50" x2="446.30" y2="655.50" stroke="#fff" stroke-width="1.8" />
<line x1="432.70" y1="738.50" x2="446.30" y2="738.50" stroke="#fff" stroke-width="1.8" />
<line x1="583.30" y1="738.20" x2="612.00" y2="738.20" stroke="#fff" stroke-width="1.6" />
<text x="608.80" y="729.80" font-size="19.8" fill="#fff" text-anchor="end" >100 µm</text>
<rect x="629.80" y="578.50" width="81.00" height="80.80" fill="#03050e" />
<clipPath id="fc29"><rect x="629.80" y="578.50" width="81.00" height="80.80"/></clipPath>
<g clip-path="url(#fc29)"><rect x="629.80" y="578.50" width="81.00" height="80.80" fill="#000" filter="url(#eb)" opacity="0.7684"/></g>
<rect x="629.80" y="661.50" width="81.00" height="80.80" fill="#100303" />
<clipPath id="fc30"><rect x="629.80" y="661.50" width="81.00" height="80.80"/></clipPath>
<g clip-path="url(#fc30)"><rect x="629.80" y="661.50" width="81.00" height="80.80" fill="#000" filter="url(#er)" opacity="0.636"/></g>
<rect x="712.80" y="578.50" width="162.60" height="163.80" fill="#0a0818" />
<clipPath id="fc31"><rect x="712.80" y="578.50" width="162.60" height="163.80"/></clipPath>
<g clip-path="url(#fc31)"><rect x="712.80" y="578.50" width="162.60" height="163.80" fill="#000" filter="url(#emr)" opacity="0.27"/></g>
<clipPath id="fc32"><rect x="712.80" y="578.50" width="162.60" height="163.80"/></clipPath>
<g clip-path="url(#fc32)" style="mix-blend-mode:screen"><rect x="712.80" y="578.50" width="162.60" height="163.80" fill="#000" filter="url(#emb)" opacity="1"/></g>
<line x1="693.50" y1="655.50" x2="707.10" y2="655.50" stroke="#fff" stroke-width="1.8" />
<line x1="693.50" y1="738.50" x2="707.10" y2="738.50" stroke="#fff" stroke-width="1.8" />
<line x1="844.10" y1="738.20" x2="872.80" y2="738.20" stroke="#fff" stroke-width="1.6" />
<text x="869.60" y="729.80" font-size="19.8" fill="#fff" text-anchor="end" >100 µm</text>
<rect x="890.50" y="578.50" width="81.00" height="80.80" fill="#03050e" />
<clipPath id="fc33"><rect x="890.50" y="578.50" width="81.00" height="80.80"/></clipPath>
<g clip-path="url(#fc33)"><rect x="890.50" y="578.50" width="81.00" height="80.80" fill="#000" filter="url(#eb)" opacity="0.5423999999999999"/></g>
<rect x="890.50" y="661.50" width="81.00" height="80.80" fill="#100303" />
<clipPath id="fc34"><rect x="890.50" y="661.50" width="81.00" height="80.80"/></clipPath>
<g clip-path="url(#fc34)"><rect x="890.50" y="661.50" width="81.00" height="80.80" fill="#000" filter="url(#er)" opacity="0.5830000000000001"/></g>
<rect x="973.50" y="578.50" width="162.60" height="163.80" fill="#0d040c" />
<clipPath id="fc35"><rect x="973.50" y="578.50" width="162.60" height="163.80"/></clipPath>
<g clip-path="url(#fc35)"><rect x="973.50" y="578.50" width="162.60" height="163.80" fill="#000" filter="url(#emr)" opacity="0.45"/></g>
<clipPath id="fc36"><rect x="973.50" y="578.50" width="162.60" height="163.80"/></clipPath>
<g clip-path="url(#fc36)" style="mix-blend-mode:screen"><rect x="973.50" y="578.50" width="162.60" height="163.80" fill="#000" filter="url(#emb)" opacity="1"/></g>
<line x1="954.20" y1="655.50" x2="967.80" y2="655.50" stroke="#fff" stroke-width="1.8" />
<line x1="954.20" y1="738.50" x2="967.80" y2="738.50" stroke="#fff" stroke-width="1.8" />
<line x1="1104.80" y1="738.20" x2="1133.50" y2="738.20" stroke="#fff" stroke-width="1.6" />
<text x="1130.30" y="729.80" font-size="19.8" fill="#fff" text-anchor="end" >100 µm</text>
<rect x="1151.30" y="578.50" width="81.00" height="80.80" fill="#03050e" />
<clipPath id="fc37"><rect x="1151.30" y="578.50" width="81.00" height="80.80"/></clipPath>
<g clip-path="url(#fc37)"><rect x="1151.30" y="578.50" width="81.00" height="80.80" fill="#000" filter="url(#eb)" opacity="0.5085"/></g>
<rect x="1151.30" y="661.50" width="81.00" height="80.80" fill="#100303" />
<clipPath id="fc38"><rect x="1151.30" y="661.50" width="81.00" height="80.80"/></clipPath>
<g clip-path="url(#fc38)"><rect x="1151.30" y="661.50" width="81.00" height="80.80" fill="#000" filter="url(#er)" opacity="0.371"/></g>
<rect x="1234.30" y="578.50" width="162.60" height="163.80" fill="#0d0308" />
<clipPath id="fc39"><rect x="1234.30" y="578.50" width="162.60" height="163.80"/></clipPath>
<g clip-path="url(#fc39)"><rect x="1234.30" y="578.50" width="162.60" height="163.80" fill="#000" filter="url(#emr)" opacity="0.0"/></g>
<clipPath id="fc40"><rect x="1234.30" y="578.50" width="162.60" height="163.80"/></clipPath>
<g clip-path="url(#fc40)" style="mix-blend-mode:screen"><rect x="1234.30" y="578.50" width="162.60" height="163.80" fill="#000" filter="url(#emb)" opacity="0.77"/></g>
<line x1="1215.00" y1="655.50" x2="1228.60" y2="655.50" stroke="#fff" stroke-width="1.8" />
<line x1="1215.00" y1="738.50" x2="1228.60" y2="738.50" stroke="#fff" stroke-width="1.8" />
<line x1="1365.60" y1="738.20" x2="1394.30" y2="738.20" stroke="#fff" stroke-width="1.6" />
<text x="1391.10" y="729.80" font-size="19.8" fill="#fff" text-anchor="end" >100 µm</text>
</g>
<line x1="1487.50" y1="452.10" x2="1487.50" y2="666.80" stroke="#000" stroke-width="1.8" />
<line x1="1478.50" y1="453.00" x2="1487.50" y2="453.00" stroke="#000" stroke-width="1.8" />
<text x="1469.00" y="459.75" font-size="19.0" fill="#000" text-anchor="end" >1.5</text>
<line x1="1478.50" y1="524.30" x2="1487.50" y2="524.30" stroke="#000" stroke-width="1.8" />
<text x="1469.00" y="531.04" font-size="19.0" fill="#000" text-anchor="end" >1.0</text>
<line x1="1478.50" y1="595.50" x2="1487.50" y2="595.50" stroke="#000" stroke-width="1.8" />
<text x="1469.00" y="602.25" font-size="19.0" fill="#000" text-anchor="end" >0.5</text>
<line x1="1478.50" y1="666.80" x2="1487.50" y2="666.80" stroke="#000" stroke-width="1.8" />
<text x="1469.00" y="673.54" font-size="19.0" fill="#000" text-anchor="end" >0.0</text>
<line x1="1479.50" y1="666.80" x2="1700.00" y2="666.80" stroke="#000" stroke-width="1.8" />
<line x1="1520.30" y1="666.80" x2="1520.30" y2="675.30" stroke="#000" stroke-width="1.8" />
<line x1="1569.40" y1="666.80" x2="1569.40" y2="675.30" stroke="#000" stroke-width="1.8" />
<line x1="1618.80" y1="666.80" x2="1618.80" y2="675.30" stroke="#000" stroke-width="1.8" />
<line x1="1668.20" y1="666.80" x2="1668.20" y2="675.30" stroke="#000" stroke-width="1.8" />
<text x="0" y="0" font-size="19.2" fill="#000" text-anchor="middle" transform="translate(1437.00 562.00) rotate(-90)" ><tspan font-style="italic">HSP47</tspan> Rel. to control</text>
<rect x="1504.80" y="585.00" width="31.00" height="81.80" fill="#92a9d4"/>
<path d="M1504.80 666.80V585.00H1535.80V666.80" fill="none" stroke="#2f4fa6" stroke-width="1.6" />
<rect x="1553.90" y="586.30" width="31.00" height="80.50" fill="#e9908a"/>
<path d="M1553.90 666.80V586.30H1584.90V666.80" fill="none" stroke="#e8301f" stroke-width="1.6" />
<rect x="1603.30" y="525.00" width="31.00" height="141.80" fill="#c1a2d0"/>
<path d="M1603.30 666.80V525.00H1634.30V666.80" fill="none" stroke="#8a45a5" stroke-width="1.6" />
<rect x="1652.70" y="568.30" width="31.00" height="98.50" fill="#a2e3a2"/>
<path d="M1652.70 666.80V568.30H1683.70V666.80" fill="none" stroke="#3dbb3d" stroke-width="1.6" />
<line x1="1520.30" y1="578.80" x2="1520.30" y2="585.80" stroke="#2f4fa6" stroke-width="1.6" />
<line x1="1511.30" y1="578.80" x2="1529.30" y2="578.80" stroke="#2f4fa6" stroke-width="1.6" />
<line x1="1511.30" y1="585.80" x2="1529.30" y2="585.80" stroke="#2f4fa6" stroke-width="1.6" />
<circle cx="1508.00" cy="586.80" r="3.7" fill="#2f4fa6" />
<circle cx="1520.30" cy="578.80" r="3.7" fill="#2f4fa6" />
<circle cx="1532.50" cy="583.00" r="3.7" fill="#2f4fa6" />
<line x1="1569.40" y1="580.00" x2="1569.40" y2="589.30" stroke="#e8301f" stroke-width="1.6" />
<line x1="1560.40" y1="580.00" x2="1578.40" y2="580.00" stroke="#e8301f" stroke-width="1.6" />
<line x1="1560.40" y1="589.30" x2="1578.40" y2="589.30" stroke="#e8301f" stroke-width="1.6" />
<circle cx="1557.50" cy="580.00" r="3.7" fill="#e8301f" />
<circle cx="1557.50" cy="589.50" r="3.7" fill="#e8301f" />
<circle cx="1581.80" cy="585.00" r="3.7" fill="#e8301f" />
<line x1="1618.80" y1="508.00" x2="1618.80" y2="539.30" stroke="#8a45a5" stroke-width="1.6" />
<line x1="1609.80" y1="508.00" x2="1627.80" y2="508.00" stroke="#8a45a5" stroke-width="1.6" />
<line x1="1609.80" y1="539.30" x2="1627.80" y2="539.30" stroke="#8a45a5" stroke-width="1.6" />
<circle cx="1619.00" cy="505.50" r="3.7" fill="#8a45a5" />
<circle cx="1631.00" cy="531.30" r="3.7" fill="#8a45a5" />
<circle cx="1606.80" cy="535.00" r="3.7" fill="#8a45a5" />
<line x1="1668.20" y1="558.80" x2="1668.20" y2="575.00" stroke="#3dbb3d" stroke-width="1.6" />
<line x1="1659.20" y1="558.80" x2="1677.20" y2="558.80" stroke="#3dbb3d" stroke-width="1.6" />
<line x1="1659.20" y1="575.00" x2="1677.20" y2="575.00" stroke="#3dbb3d" stroke-width="1.6" />
<circle cx="1655.80" cy="561.30" r="3.7" fill="#3dbb3d" />
<circle cx="1680.00" cy="563.80" r="3.7" fill="#3dbb3d" />
<circle cx="1668.00" cy="577.00" r="3.7" fill="#3dbb3d" />
<path d="M1520.30 566.30V480.50H1565.00V567.50" fill="none" stroke="#000" stroke-width="1.75" stroke-linejoin="miter"/>
<path d="M1573.80 567.50V480.50H1614.50V493.80" fill="none" stroke="#000" stroke-width="1.75" stroke-linejoin="miter"/>
<path d="M1623.00 493.80V480.50H1668.50V546.30" fill="none" stroke="#000" stroke-width="1.75" stroke-linejoin="miter"/>
<path d="M1520.30 468.00V434.30H1619.00V450.80" fill="none" stroke="#000" stroke-width="1.75" stroke-linejoin="miter"/>
<path d="M1569.30 404.50V391.30H1668.50V450.80" fill="none" stroke="#000" stroke-width="1.75" stroke-linejoin="miter"/>
<path d="M1520.30 421.80V345.00H1668.50V378.80" fill="none" stroke="#000" stroke-width="1.75" stroke-linejoin="miter"/>
<text x="1544.30" y="468.80" font-size="19" fill="#000" text-anchor="middle" >ns</text>
<text x="1574.74" y="471.72" font-size="16.8" fill="#000" font-family="'DejaVu Sans', sans-serif" letter-spacing="-1.38">✱✱✱</text>
<text x="1632.39" y="471.72" font-size="16.8" fill="#000" font-family="'DejaVu Sans', sans-serif" letter-spacing="-1.38">✱✱</text>
<text x="1550.24" y="425.72" font-size="16.8" fill="#000" font-family="'DejaVu Sans', sans-serif" letter-spacing="-1.38">✱✱✱</text>
<text x="1620.00" y="379.50" font-size="19" fill="#000" text-anchor="middle" >ns</text>
<text x="1595.50" y="333.30" font-size="19" fill="#000" text-anchor="middle" >ns</text>
<text x="0" y="0" font-size="20" fill="#000" text-anchor="end" transform="translate(1521.30 687.60) rotate(-45)" >IPM</text>
<text x="0" y="0" font-size="20" fill="#000" text-anchor="end" transform="translate(1575.90 687.30) rotate(-45)" >FAPi-IPM</text>
<text x="0" y="0" font-size="20" fill="#000" text-anchor="end" transform="translate(1621.70 687.30) rotate(-45)" >Control</text>
<text x="0" y="0" font-size="20" fill="#000" text-anchor="end" transform="translate(1675.60 687.20) rotate(-45)" >LNP</text>
<line x1="1784.30" y1="451.10" x2="1784.30" y2="666.20" stroke="#000" stroke-width="1.8" />
<line x1="1775.30" y1="452.00" x2="1784.30" y2="452.00" stroke="#000" stroke-width="1.8" />
<text x="1766.00" y="458.75" font-size="19.0" fill="#000" text-anchor="end" >1.5</text>
<line x1="1775.30" y1="523.30" x2="1784.30" y2="523.30" stroke="#000" stroke-width="1.8" />
<text x="1766.00" y="530.04" font-size="19.0" fill="#000" text-anchor="end" >1.0</text>
<line x1="1775.30" y1="594.60" x2="1784.30" y2="594.60" stroke="#000" stroke-width="1.8" />
<text x="1766.00" y="601.35" font-size="19.0" fill="#000" text-anchor="end" >0.5</text>
<line x1="1775.30" y1="666.20" x2="1784.30" y2="666.20" stroke="#000" stroke-width="1.8" />
<text x="1766.00" y="672.95" font-size="19.0" fill="#000" text-anchor="end" >0.0</text>
<line x1="1775.00" y1="666.20" x2="1999.00" y2="666.20" stroke="#000" stroke-width="1.8" />
<line x1="1817.00" y1="666.20" x2="1817.00" y2="674.70" stroke="#000" stroke-width="1.8" />
<line x1="1866.20" y1="666.20" x2="1866.20" y2="674.70" stroke="#000" stroke-width="1.8" />
<line x1="1915.60" y1="666.20" x2="1915.60" y2="674.70" stroke="#000" stroke-width="1.8" />
<line x1="1965.00" y1="666.20" x2="1965.00" y2="674.70" stroke="#000" stroke-width="1.8" />
<text x="0" y="0" font-size="19.2" fill="#000" text-anchor="middle" transform="translate(1733.00 561.00) rotate(-90)" ><tspan font-style="italic">HMGB1</tspan> Rel. to control</text>
<rect x="1801.50" y="587.60" width="31.00" height="78.60" fill="#92a9d4"/>
<path d="M1801.50 666.20V587.60H1832.50V666.20" fill="none" stroke="#2f4fa6" stroke-width="1.6" />
<rect x="1850.70" y="603.20" width="31.00" height="63.00" fill="#e9908a"/>
<path d="M1850.70 666.20V603.20H1881.70V666.20" fill="none" stroke="#e8301f" stroke-width="1.6" />
<rect x="1900.10" y="523.80" width="31.00" height="142.40" fill="#c1a2d0"/>
<path d="M1900.10 666.20V523.80H1931.10V666.20" fill="none" stroke="#8a45a5" stroke-width="1.6" />
<rect x="1949.50" y="602.50" width="31.00" height="63.70" fill="#a2e3a2"/>
<path d="M1949.50 666.20V602.50H1980.50V666.20" fill="none" stroke="#3dbb3d" stroke-width="1.6" />
<line x1="1805.00" y1="587.30" x2="1829.00" y2="587.30" stroke="#2f4fa6" stroke-width="1.4" />
<circle cx="1805.00" cy="589.30" r="3.7" fill="#2f4fa6" />
<circle cx="1817.00" cy="585.80" r="3.7" fill="#2f4fa6" />
<circle cx="1829.00" cy="587.00" r="3.7" fill="#2f4fa6" />
<line x1="1854.00" y1="602.80" x2="1878.30" y2="602.80" stroke="#e8301f" stroke-width="1.4" />
<circle cx="1854.00" cy="604.50" r="3.7" fill="#e8301f" />
<circle cx="1866.30" cy="601.30" r="3.7" fill="#e8301f" />
<circle cx="1878.30" cy="602.50" r="3.7" fill="#e8301f" />
<line x1="1915.60" y1="504.30" x2="1915.60" y2="542.00" stroke="#8a45a5" stroke-width="1.6" />
<line x1="1906.60" y1="504.30" x2="1924.60" y2="504.30" stroke="#8a45a5" stroke-width="1.6" />
<line x1="1906.60" y1="542.00" x2="1924.60" y2="542.00" stroke="#8a45a5" stroke-width="1.6" />
<circle cx="1915.80" cy="503.00" r="3.7" fill="#8a45a5" />
<circle cx="1915.80" cy="526.30" r="3.7" fill="#8a45a5" />
<circle cx="1915.80" cy="539.30" r="3.7" fill="#8a45a5" />
<line x1="1953.00" y1="602.00" x2="1977.00" y2="602.00" stroke="#3dbb3d" stroke-width="1.4" />
<circle cx="1953.00" cy="603.80" r="3.7" fill="#3dbb3d" />
<circle cx="1965.00" cy="600.00" r="3.7" fill="#3dbb3d" />
<circle cx="1977.00" cy="601.30" r="3.7" fill="#3dbb3d" />
<path d="M1816.80 573.00V478.00H1861.80V588.80" fill="none" stroke="#000" stroke-width="1.75" stroke-linejoin="miter"/>
<path d="M1870.30 588.80V478.00H1915.80V490.00" fill="none" stroke="#000" stroke-width="1.75" stroke-linejoin="miter"/>
<path d="M1816.80 465.50V431.30H1911.80V447.50" fill="none" stroke="#000" stroke-width="1.75" stroke-linejoin="miter"/>
<path d="M1920.00 447.50V431.30H1965.30V587.50" fill="none" stroke="#000" stroke-width="1.75" stroke-linejoin="miter"/>
<path d="M1866.00 401.30V388.50H1965.30V401.30" fill="none" stroke="#000" stroke-width="1.75" stroke-linejoin="miter"/>
<path d="M1816.80 418.80V341.30H1965.30V376.30" fill="none" stroke="#000" stroke-width="1.75" stroke-linejoin="miter"/>
<text x="1840.80" y="465.50" font-size="19" fill="#000" text-anchor="middle" >ns</text>
<text x="1866.69" y="468.72" font-size="16.8" fill="#000" font-family="'DejaVu Sans', sans-serif" letter-spacing="-1.58">✱✱✱✱</text>
<text x="1844.54" y="422.52" font-size="16.8" fill="#000" font-family="'DejaVu Sans', sans-serif" letter-spacing="-1.38">✱✱✱</text>
<text x="1916.19" y="422.52" font-size="16.8" fill="#000" font-family="'DejaVu Sans', sans-serif" letter-spacing="-1.58">✱✱✱✱</text>
<text x="1916.80" y="376.30" font-size="19" fill="#000" text-anchor="middle" >ns</text>
<text x="1892.00" y="329.50" font-size="19" fill="#000" text-anchor="middle" >ns</text>
<text x="0" y="0" font-size="20" fill="#000" text-anchor="end" transform="translate(1817.40 687.30) rotate(-45)" >IPM</text>
<text x="0" y="0" font-size="20" fill="#000" text-anchor="end" transform="translate(1871.90 687.30) rotate(-45)" >FAPi-IPM</text>
<text x="0" y="0" font-size="20" fill="#000" text-anchor="end" transform="translate(1918.20 686.90) rotate(-45)" >Control</text>
<text x="0" y="0" font-size="20" fill="#000" text-anchor="end" transform="translate(1973.10 686.20) rotate(-45)" >LNP</text>
<text x="170.00" y="791.80" font-size="19.9" fill="#111" >20% CCl<tspan font-size="11" dy="5">4</tspan><tspan dy="-5"> (2 mL/kg weight, Ip. , Tiw. , 8 w)</tspan></text>
<line x1="153.90" y1="840.50" x2="601.66" y2="840.50" stroke="#000" stroke-width="1.6" />
<line x1="154.70" y1="812.50" x2="154.70" y2="840.50" stroke="#000" stroke-width="1.6" />
<text x="154.40" y="865.20" font-size="19.2" fill="#111" text-anchor="middle" >0</text>
<line x1="168.60" y1="835.00" x2="168.60" y2="840.50" stroke="#000" stroke-width="1.5" />
<line x1="168.60" y1="806.50" x2="168.60" y2="819.50" stroke="#000" stroke-width="1.5" />
<path d="M165.4 817.2 L168.6 823.5 L171.8 817.2 L168.6 819.4 Z" fill="#000"/>
<line x1="182.50" y1="835.00" x2="182.50" y2="840.50" stroke="#000" stroke-width="1.5" />
<line x1="182.50" y1="806.50" x2="182.50" y2="819.50" stroke="#000" stroke-width="1.5" />
<path d="M179.3 817.2 L182.5 823.5 L185.7 817.2 L182.5 819.4 Z" fill="#000"/>
<line x1="196.40" y1="835.00" x2="196.40" y2="840.50" stroke="#000" stroke-width="1.5" />
<line x1="196.40" y1="806.50" x2="196.40" y2="819.50" stroke="#000" stroke-width="1.5" />
<path d="M193.2 817.2 L196.4 823.5 L199.6 817.2 L196.4 819.4 Z" fill="#000"/>
<line x1="210.47" y1="812.50" x2="210.47" y2="840.50" stroke="#000" stroke-width="1.6" />
<text x="210.17" y="865.20" font-size="19.2" fill="#111" text-anchor="middle" >1</text>
<line x1="224.37" y1="835.00" x2="224.37" y2="840.50" stroke="#000" stroke-width="1.5" />
<line x1="224.37" y1="806.50" x2="224.37" y2="819.50" stroke="#000" stroke-width="1.5" />
<path d="M221.2 817.2 L224.4 823.5 L227.6 817.2 L224.4 819.4 Z" fill="#000"/>
<line x1="238.27" y1="835.00" x2="238.27" y2="840.50" stroke="#000" stroke-width="1.5" />
<line x1="238.27" y1="806.50" x2="238.27" y2="819.50" stroke="#000" stroke-width="1.5" />
<path d="M235.1 817.2 L238.3 823.5 L241.5 817.2 L238.3 819.4 Z" fill="#000"/>
<line x1="252.17" y1="835.00" x2="252.17" y2="840.50" stroke="#000" stroke-width="1.5" />
<line x1="252.17" y1="806.50" x2="252.17" y2="819.50" stroke="#000" stroke-width="1.5" />
<path d="M249.0 817.2 L252.2 823.5 L255.4 817.2 L252.2 819.4 Z" fill="#000"/>
<line x1="266.24" y1="812.50" x2="266.24" y2="840.50" stroke="#000" stroke-width="1.6" />
<text x="265.94" y="865.20" font-size="19.2" fill="#111" text-anchor="middle" >2</text>
<line x1="280.14" y1="835.00" x2="280.14" y2="840.50" stroke="#000" stroke-width="1.5" />
<line x1="280.14" y1="806.50" x2="280.14" y2="819.50" stroke="#000" stroke-width="1.5" />
<path d="M276.9 817.2 L280.1 823.5 L283.3 817.2 L280.1 819.4 Z" fill="#000"/>
<line x1="294.04" y1="835.00" x2="294.04" y2="840.50" stroke="#000" stroke-width="1.5" />
<line x1="294.04" y1="806.50" x2="294.04" y2="819.50" stroke="#000" stroke-width="1.5" />
<path d="M290.8 817.2 L294.0 823.5 L297.2 817.2 L294.0 819.4 Z" fill="#000"/>
<line x1="307.94" y1="835.00" x2="307.94" y2="840.50" stroke="#000" stroke-width="1.5" />
<line x1="307.94" y1="806.50" x2="307.94" y2="819.50" stroke="#000" stroke-width="1.5" />
<path d="M304.7 817.2 L307.9 823.5 L311.1 817.2 L307.9 819.4 Z" fill="#000"/>
<line x1="322.01" y1="812.50" x2="322.01" y2="840.50" stroke="#000" stroke-width="1.6" />
<text x="321.71" y="865.20" font-size="19.2" fill="#111" text-anchor="middle" >3</text>
<line x1="335.91" y1="835.00" x2="335.91" y2="840.50" stroke="#000" stroke-width="1.5" />
<line x1="335.91" y1="806.50" x2="335.91" y2="819.50" stroke="#000" stroke-width="1.5" />
<path d="M332.7 817.2 L335.9 823.5 L339.1 817.2 L335.9 819.4 Z" fill="#000"/>
<line x1="349.81" y1="835.00" x2="349.81" y2="840.50" stroke="#000" stroke-width="1.5" />
<line x1="349.81" y1="806.50" x2="349.81" y2="819.50" stroke="#000" stroke-width="1.5" />
<path d="M346.6 817.2 L349.8 823.5 L353.0 817.2 L349.8 819.4 Z" fill="#000"/>
<line x1="363.71" y1="835.00" x2="363.71" y2="840.50" stroke="#000" stroke-width="1.5" />
<line x1="363.71" y1="806.50" x2="363.71" y2="819.50" stroke="#000" stroke-width="1.5" />
<path d="M360.5 817.2 L363.7 823.5 L366.9 817.2 L363.7 819.4 Z" fill="#000"/>
<line x1="377.78" y1="812.50" x2="377.78" y2="840.50" stroke="#000" stroke-width="1.6" />
<text x="377.48" y="865.20" font-size="19.2" fill="#111" text-anchor="middle" >4</text>
<line x1="391.68" y1="835.00" x2="391.68" y2="840.50" stroke="#000" stroke-width="1.5" />
<line x1="391.68" y1="806.50" x2="391.68" y2="819.50" stroke="#000" stroke-width="1.5" />
<path d="M388.5 817.2 L391.7 823.5 L394.9 817.2 L391.7 819.4 Z" fill="#000"/>
<line x1="405.58" y1="835.00" x2="405.58" y2="840.50" stroke="#000" stroke-width="1.5" />
<line x1="405.58" y1="806.50" x2="405.58" y2="819.50" stroke="#000" stroke-width="1.5" />
<path d="M402.4 817.2 L405.6 823.5 L408.8 817.2 L405.6 819.4 Z" fill="#000"/>
<line x1="419.48" y1="835.00" x2="419.48" y2="840.50" stroke="#000" stroke-width="1.5" />
<line x1="419.48" y1="806.50" x2="419.48" y2="819.50" stroke="#000" stroke-width="1.5" />
<path d="M416.3 817.2 L419.5 823.5 L422.7 817.2 L419.5 819.4 Z" fill="#000"/>
<line x1="433.55" y1="812.50" x2="433.55" y2="840.50" stroke="#000" stroke-width="1.6" />
<text x="433.25" y="865.20" font-size="19.2" fill="#111" text-anchor="middle" >5</text>
<line x1="447.45" y1="835.00" x2="447.45" y2="840.50" stroke="#000" stroke-width="1.5" />
<line x1="447.45" y1="806.50" x2="447.45" y2="819.50" stroke="#000" stroke-width="1.5" />
<path d="M444.2 817.2 L447.4 823.5 L450.6 817.2 L447.4 819.4 Z" fill="#000"/>
<line x1="461.35" y1="835.00" x2="461.35" y2="840.50" stroke="#000" stroke-width="1.5" />
<line x1="461.35" y1="806.50" x2="461.35" y2="819.50" stroke="#000" stroke-width="1.5" />
<path d="M458.2 817.2 L461.4 823.5 L464.6 817.2 L461.4 819.4 Z" fill="#000"/>
<line x1="475.25" y1="835.00" x2="475.25" y2="840.50" stroke="#000" stroke-width="1.5" />
<line x1="475.25" y1="806.50" x2="475.25" y2="819.50" stroke="#000" stroke-width="1.5" />
<path d="M472.1 817.2 L475.2 823.5 L478.4 817.2 L475.2 819.4 Z" fill="#000"/>
<line x1="489.32" y1="812.50" x2="489.32" y2="840.50" stroke="#000" stroke-width="1.6" />
<text x="489.02" y="865.20" font-size="19.2" fill="#111" text-anchor="middle" >6</text>
<line x1="503.22" y1="835.00" x2="503.22" y2="840.50" stroke="#000" stroke-width="1.5" />
<line x1="503.22" y1="806.50" x2="503.22" y2="819.50" stroke="#000" stroke-width="1.5" />
<path d="M500.0 817.2 L503.2 823.5 L506.4 817.2 L503.2 819.4 Z" fill="#000"/>
<line x1="517.12" y1="835.00" x2="517.12" y2="840.50" stroke="#000" stroke-width="1.5" />
<line x1="517.12" y1="806.50" x2="517.12" y2="819.50" stroke="#000" stroke-width="1.5" />
<path d="M513.9 817.2 L517.1 823.5 L520.3 817.2 L517.1 819.4 Z" fill="#000"/>
<line x1="531.02" y1="835.00" x2="531.02" y2="840.50" stroke="#000" stroke-width="1.5" />
<line x1="531.02" y1="806.50" x2="531.02" y2="819.50" stroke="#000" stroke-width="1.5" />
<path d="M527.8 817.2 L531.0 823.5 L534.2 817.2 L531.0 819.4 Z" fill="#000"/>
<line x1="545.09" y1="812.50" x2="545.09" y2="840.50" stroke="#000" stroke-width="1.6" />
<text x="544.79" y="865.20" font-size="19.2" fill="#111" text-anchor="middle" >7</text>
<line x1="558.99" y1="835.00" x2="558.99" y2="840.50" stroke="#000" stroke-width="1.5" />
<line x1="558.99" y1="806.50" x2="558.99" y2="819.50" stroke="#000" stroke-width="1.5" />
<path d="M555.8 817.2 L559.0 823.5 L562.2 817.2 L559.0 819.4 Z" fill="#000"/>
<line x1="572.89" y1="835.00" x2="572.89" y2="840.50" stroke="#000" stroke-width="1.5" />
<line x1="572.89" y1="806.50" x2="572.89" y2="819.50" stroke="#000" stroke-width="1.5" />
<path d="M569.7 817.2 L572.9 823.5 L576.1 817.2 L572.9 819.4 Z" fill="#000"/>
<line x1="586.79" y1="835.00" x2="586.79" y2="840.50" stroke="#000" stroke-width="1.5" />
<line x1="586.79" y1="806.50" x2="586.79" y2="819.50" stroke="#000" stroke-width="1.5" />
<path d="M583.6 817.2 L586.8 823.5 L590.0 817.2 L586.8 819.4 Z" fill="#000"/>
<line x1="600.86" y1="812.50" x2="600.86" y2="840.50" stroke="#000" stroke-width="1.6" />
<text x="600.56" y="865.20" font-size="19.2" fill="#111" text-anchor="middle" >8</text>
<text x="0" y="0" font-size="19.3" fill="#111" transform="translate(91.50 879.00) rotate(-30)" >weeks</text>
<line x1="167.00" y1="1000.00" x2="167.00" y2="1214.00" stroke="#000" stroke-width="1.6" />
<line x1="158.00" y1="1000.80" x2="167.00" y2="1000.80" stroke="#000" stroke-width="1.6" />
<text x="151.50" y="1007.40" font-size="19.2" fill="#000" text-anchor="end" >8x10</text>
<text x="151.30" y="999.30" font-size="11" fill="#000" >9</text>
<line x1="158.00" y1="1054.50" x2="167.00" y2="1054.50" stroke="#000" stroke-width="1.6" />
<text x="151.50" y="1061.10" font-size="19.2" fill="#000" text-anchor="end" >6x10</text>
<text x="151.30" y="1053.00" font-size="11" fill="#000" >9</text>
<line x1="158.00" y1="1107.80" x2="167.00" y2="1107.80" stroke="#000" stroke-width="1.6" />
<text x="151.50" y="1114.40" font-size="19.2" fill="#000" text-anchor="end" >4x10</text>
<text x="151.30" y="1106.30" font-size="11" fill="#000" >9</text>
<line x1="158.00" y1="1160.80" x2="167.00" y2="1160.80" stroke="#000" stroke-width="1.6" />
<text x="151.50" y="1167.40" font-size="19.2" fill="#000" text-anchor="end" >2x10</text>
<text x="151.30" y="1159.30" font-size="11" fill="#000" >9</text>
<line x1="158.00" y1="1214.00" x2="167.00" y2="1214.00" stroke="#000" stroke-width="1.6" />
<text x="151.50" y="1220.60" font-size="19.2" fill="#000" text-anchor="end" >0</text>
<line x1="158.00" y1="1214.00" x2="308.80" y2="1214.00" stroke="#000" stroke-width="1.8" />
<line x1="195.00" y1="1214.00" x2="195.00" y2="1222.50" stroke="#000" stroke-width="1.8" />
<line x1="237.50" y1="1214.00" x2="237.50" y2="1222.50" stroke="#000" stroke-width="1.8" />
<line x1="280.30" y1="1214.00" x2="280.30" y2="1222.50" stroke="#000" stroke-width="1.8" />
<text x="0" y="0" font-size="19.2" fill="#000" text-anchor="middle" transform="translate(97.30 1106.00) rotate(-90)" >ROI</text>
<rect x="181.70" y="1092.30" width="26.60" height="121.70" fill="#92a9d4"/>
<path d="M181.70 1214.00V1092.30H208.30V1214.00" fill="none" stroke="#2f4fa6" stroke-width="1.6" />
<rect x="224.20" y="1031.00" width="26.60" height="183.00" fill="#e9908a"/>
<path d="M224.20 1214.00V1031.00H250.80V1214.00" fill="none" stroke="#e8301f" stroke-width="1.6" />
<rect x="267.00" y="1130.30" width="26.60" height="83.70" fill="#a2e3a2"/>
<path d="M267.00 1214.00V1130.30H293.60V1214.00" fill="none" stroke="#3dbb3d" stroke-width="1.6" />
<line x1="195.00" y1="1078.50" x2="195.00" y2="1104.00" stroke="#2f4fa6" stroke-width="1.6" />
<line x1="187.50" y1="1078.50" x2="202.50" y2="1078.50" stroke="#2f4fa6" stroke-width="1.6" />
<line x1="187.50" y1="1104.00" x2="202.50" y2="1104.00" stroke="#2f4fa6" stroke-width="1.6" />
<circle cx="195.00" cy="1081.00" r="3.4" fill="#2f4fa6" />
<circle cx="195.00" cy="1087.80" r="3.4" fill="#2f4fa6" />
<circle cx="195.00" cy="1104.50" r="3.4" fill="#2f4fa6" />
<line x1="237.50" y1="1014.80" x2="237.50" y2="1045.30" stroke="#e8301f" stroke-width="1.6" />
<line x1="230.00" y1="1014.80" x2="245.00" y2="1014.80" stroke="#e8301f" stroke-width="1.6" />
<line x1="230.00" y1="1045.30" x2="245.00" y2="1045.30" stroke="#e8301f" stroke-width="1.6" />
<circle cx="237.50" cy="1015.50" r="3.4" fill="#e8301f" />
<circle cx="237.50" cy="1027.80" r="3.4" fill="#e8301f" />
<circle cx="237.50" cy="1045.50" r="3.4" fill="#e8301f" />
<line x1="280.30" y1="1115.80" x2="280.30" y2="1143.30" stroke="#3dbb3d" stroke-width="1.6" />
<line x1="272.80" y1="1115.80" x2="287.80" y2="1115.80" stroke="#3dbb3d" stroke-width="1.6" />
<line x1="272.80" y1="1143.30" x2="287.80" y2="1143.30" stroke="#3dbb3d" stroke-width="1.6" />
<circle cx="280.30" cy="1116.00" r="3.4" fill="#3dbb3d" />
<circle cx="280.30" cy="1127.80" r="3.4" fill="#3dbb3d" />
<circle cx="280.30" cy="1143.50" r="3.4" fill="#3dbb3d" />
<path d="M195.00 1067.00V989.80H237.50V1002.80" fill="none" stroke="#000" stroke-width="1.75" stroke-linejoin="miter"/>
<path d="M237.50 960.00V947.50H280.30V1103.50" fill="none" stroke="#000" stroke-width="1.75" stroke-linejoin="miter"/>
<path d="M195.00 960.00V904.30H280.30V917.00" fill="none" stroke="#000" stroke-width="1.75" stroke-linejoin="miter"/>
<text x="202.52" y="984.53" font-size="19" fill="#000" font-family="'DejaVu Sans', sans-serif" letter-spacing="-1.92">✱✱</text>
<text x="238.62" y="940.83" font-size="19" fill="#000" font-family="'DejaVu Sans', sans-serif" letter-spacing="-1.72">✱✱✱</text>
<text x="229.02" y="897.53" font-size="19" fill="#000" font-family="'DejaVu Sans', sans-serif" letter-spacing="-1.92">✱</text>
<text x="0" y="0" font-size="20" fill="#000" text-anchor="end" transform="translate(201.60 1234.30) rotate(-45)" >IPM</text>
<text x="0" y="0" font-size="20" fill="#000" text-anchor="end" transform="translate(248.70 1233.50) rotate(-45)" >FAPi-IPM</text>
<text x="0" y="0" font-size="20" fill="#000" text-anchor="end" transform="translate(287.10 1234.30) rotate(-45)" >LNP</text>
<line x1="434.30" y1="997.40" x2="434.30" y2="1212.80" stroke="#000" stroke-width="1.8" />
<line x1="425.30" y1="998.30" x2="434.30" y2="998.30" stroke="#000" stroke-width="1.8" />
<text x="422.00" y="1005.04" font-size="19.0" fill="#000" text-anchor="end" >20</text>
<line x1="425.30" y1="1052.00" x2="434.30" y2="1052.00" stroke="#000" stroke-width="1.8" />
<text x="422.00" y="1058.74" font-size="19.0" fill="#000" text-anchor="end" >15</text>
<line x1="425.30" y1="1105.30" x2="434.30" y2="1105.30" stroke="#000" stroke-width="1.8" />
<text x="422.00" y="1112.04" font-size="19.0" fill="#000" text-anchor="end" >10</text>
<line x1="425.30" y1="1159.00" x2="434.30" y2="1159.00" stroke="#000" stroke-width="1.8" />
<text x="422.00" y="1165.74" font-size="19.0" fill="#000" text-anchor="end" >5</text>
<line x1="425.30" y1="1212.80" x2="434.30" y2="1212.80" stroke="#000" stroke-width="1.8" />
<text x="422.00" y="1219.54" font-size="19.0" fill="#000" text-anchor="end" >0</text>
<line x1="425.30" y1="1212.80" x2="576.50" y2="1212.80" stroke="#000" stroke-width="1.8" />
<line x1="462.50" y1="1212.80" x2="462.50" y2="1221.30" stroke="#000" stroke-width="1.8" />
<line x1="505.30" y1="1212.80" x2="505.30" y2="1221.30" stroke="#000" stroke-width="1.8" />
<line x1="548.20" y1="1212.80" x2="548.20" y2="1221.30" stroke="#000" stroke-width="1.8" />
<text x="0" y="0" font-size="19.2" fill="#000" text-anchor="middle" transform="translate(393.00 1101.50) rotate(-90)" >FAM<tspan font-size="11" dy="-7">+</tspan><tspan dy="7"> cells%</tspan></text>
<rect x="449.30" y="1135.80" width="26.40" height="77.00" fill="#92a9d4"/>
<path d="M449.30 1212.80V1135.80H475.70V1212.80" fill="none" stroke="#2f4fa6" stroke-width="1.6" />
<rect x="492.10" y="1046.80" width="26.40" height="166.00" fill="#e9908a"/>
<path d="M492.10 1212.80V1046.80H518.50V1212.80" fill="none" stroke="#e8301f" stroke-width="1.6" />
<rect x="535.00" y="1153.80" width="26.40" height="59.00" fill="#a2e3a2"/>
<path d="M535.00 1212.80V1153.80H561.40V1212.80" fill="none" stroke="#3dbb3d" stroke-width="1.6" />
<line x1="462.50" y1="1128.50" x2="462.50" y2="1140.30" stroke="#2f4fa6" stroke-width="1.6" />
<line x1="455.00" y1="1128.50" x2="470.00" y2="1128.50" stroke="#2f4fa6" stroke-width="1.6" />
<line x1="455.00" y1="1140.30" x2="470.00" y2="1140.30" stroke="#2f4fa6" stroke-width="1.6" />
<circle cx="455.80" cy="1129.00" r="3.4" fill="#2f4fa6" />
<circle cx="468.80" cy="1132.80" r="3.4" fill="#2f4fa6" />
<circle cx="462.50" cy="1141.00" r="3.4" fill="#2f4fa6" />
<line x1="505.30" y1="1018.80" x2="505.30" y2="1073.30" stroke="#e8301f" stroke-width="1.6" />
<line x1="497.80" y1="1018.80" x2="512.80" y2="1018.80" stroke="#e8301f" stroke-width="1.6" />
<line x1="497.80" y1="1073.30" x2="512.80" y2="1073.30" stroke="#e8301f" stroke-width="1.6" />
<circle cx="505.30" cy="1018.80" r="3.4" fill="#e8301f" />
<circle cx="505.30" cy="1043.80" r="3.4" fill="#e8301f" />
<circle cx="505.30" cy="1073.80" r="3.4" fill="#e8301f" />
<line x1="548.20" y1="1148.80" x2="548.20" y2="1153.80" stroke="#3dbb3d" stroke-width="1.6" />
<line x1="540.70" y1="1148.80" x2="555.70" y2="1148.80" stroke="#3dbb3d" stroke-width="1.6" />
<line x1="540.70" y1="1153.80" x2="555.70" y2="1153.80" stroke="#3dbb3d" stroke-width="1.6" />
<circle cx="537.00" cy="1153.80" r="3.4" fill="#3dbb3d" />
<circle cx="548.30" cy="1149.50" r="3.4" fill="#3dbb3d" />
<circle cx="559.50" cy="1151.30" r="3.4" fill="#3dbb3d" />
<path d="M462.50 1115.00V994.30H505.30V1006.30" fill="none" stroke="#000" stroke-width="1.75" stroke-linejoin="miter"/>
<path d="M505.30 963.30V951.30H548.30V1136.30" fill="none" stroke="#000" stroke-width="1.75" stroke-linejoin="miter"/>
<path d="M462.50 963.30V907.50H548.30V920.80" fill="none" stroke="#000" stroke-width="1.75" stroke-linejoin="miter"/>
<text x="508.00" y="897.50" font-size="19" fill="#000" text-anchor="middle" >ns</text>
<text x="506.92" y="945.83" font-size="19" fill="#000" font-family="'DejaVu Sans', sans-serif" letter-spacing="-1.52">✱✱✱</text>
<text x="469.12" y="987.03" font-size="19" fill="#000" font-family="'DejaVu Sans', sans-serif" letter-spacing="-1.52">✱✱</text>
<text x="0" y="0" font-size="20" fill="#000" text-anchor="end" transform="translate(471.50 1233.90) rotate(-45)" >IPM</text>
<text x="0" y="0" font-size="20" fill="#000" text-anchor="end" transform="translate(519.90 1232.70) rotate(-45)" >FAPi-IPM</text>
<text x="0" y="0" font-size="20" fill="#000" text-anchor="end" transform="translate(557.00 1233.90) rotate(-45)" >LNP</text>
<defs>
<filter id="ld" x="-5%" y="-5%" width="110%" height="110%" color-interpolation-filters="sRGB">
 <feTurbulence type="fractalNoise" baseFrequency="0.35" numOctaves="1" seed="7"/>
 <feGaussianBlur stdDeviation="2.2"/>
 <feColorMatrix type="matrix" values="0 0 0 0 0.22  0 0 0 0 0.38  0 0 0 0 0.86  60 0 0 0 -30.96"/>
</filter>
<filter id="ld2" x="-5%" y="-5%" width="110%" height="110%" color-interpolation-filters="sRGB">
 <feTurbulence type="fractalNoise" baseFrequency="0.35" numOctaves="1" seed="23"/>
 <feGaussianBlur stdDeviation="2.2"/>
 <feColorMatrix type="matrix" values="0 0 0 0 0.20  0 0 0 0 0.36  0 0 0 0 0.86  0 60 0 0 -30.9"/>
</filter>
<filter id="lc" x="0" y="0" width="100%" height="100%" color-interpolation-filters="sRGB">
 <feTurbulence type="fractalNoise" baseFrequency="0.16" numOctaves="2" seed="13"/>
 <feColorMatrix type="matrix" values="0 0 0 0 0.82  0 0 0 0 0.36  0 0 0 0 0.78  0 14 0 0 -9.8"/>
</filter>
<filter id="lg" x="0" y="0" width="100%" height="100%" color-interpolation-filters="sRGB">
 <feTurbulence type="turbulence" baseFrequency="0.045" numOctaves="3" seed="4"/>
 <feColorMatrix type="matrix" values="0 0 0 0 0.30  0 0 0 0 0.85  0 0 0 0 0.28  -6 0 0 0 1.25"/>
</filter>
<filter id="lgb" x="0" y="0" width="100%" height="100%" color-interpolation-filters="sRGB">
 <feTurbulence type="fractalNoise" baseFrequency="0.06" numOctaves="3" seed="8"/>
 <feColorMatrix type="matrix" values="0 0 0 0 0.06  0 0 0 0 0.25  0 0 0 0 0.08  0 3 0 0 -1.1"/>
</filter>
<radialGradient id="gglow"><stop offset="0" stop-color="#4fd24f" stop-opacity=".55"/><stop offset="0.6" stop-color="#3fc03f" stop-opacity=".25"/><stop offset="1" stop-color="#2a9a2a" stop-opacity="0"/></radialGradient>
</defs>
<text x="0" y="0" font-size="19.5" fill="#231815" text-anchor="middle" transform="translate(695.50 1026.00) rotate(-90)" >HSCs</text>
<line x1="718.20" y1="782.00" x2="718.20" y2="1280.00" stroke="#111" stroke-width="1.7" />
<clipPath id="lall"><rect x="744.5" y="782.9" width="160.5" height="160.8"/><rect x="907" y="782.9" width="161.4" height="160.8"/><rect x="1071.2" y="782.9" width="164.6" height="160.8"/><rect x="1238.2" y="782.9" width="161.8" height="160.8"/><rect x="744.5" y="948.9" width="160.5" height="159.0"/><rect x="907" y="948.9" width="161.4" height="159.0"/><rect x="1071.2" y="948.9" width="164.6" height="159.0"/><rect x="1238.2" y="948.9" width="161.8" height="159.0"/><rect x="744.5" y="1113.2" width="160.5" height="163.4"/><rect x="907" y="1113.2" width="161.4" height="163.4"/><rect x="1071.2" y="1113.2" width="164.6" height="163.4"/><rect x="1238.2" y="1113.2" width="161.8" height="163.4"/></clipPath><g clip-path="url(#lall)">
<rect x="744.50" y="782.90" width="160.50" height="160.80" fill="#050409" />
<clipPath id="fc41"><rect x="744.50" y="782.90" width="160.50" height="160.80"/></clipPath>
<g clip-path="url(#fc41)"><rect x="744.50" y="782.90" width="160.50" height="160.80" fill="#000" filter="url(#ld)" opacity="0.9"/></g>
<text x="752.00" y="805.90" font-size="19.8" fill="#3a5fc2" >DAPI</text>
<text x="839.20" y="925.70" font-size="20.4" fill="#fff" >40 µm</text>
<line x1="840.00" y1="932.40" x2="860.70" y2="932.40" stroke="#fff" stroke-width="2" />
<rect x="907.00" y="782.90" width="161.40" height="160.80" fill="#070308" />
<rect x="907.00" y="782.90" width="161.40" height="160.80" fill="#000" filter="url(#lc)" opacity="0.9"/>
<text x="914.50" y="805.90" font-size="20" fill="#d070c6" >Cy5-si<tspan font-style="italic">NC</tspan></text>
<text x="1001.70" y="925.70" font-size="20.4" fill="#fff" >40 µm</text>
<line x1="1002.50" y1="932.40" x2="1023.20" y2="932.40" stroke="#fff" stroke-width="2" />
<rect x="1071.20" y="782.90" width="164.60" height="160.80" fill="#041507" />
<rect x="1071.20" y="782.90" width="164.60" height="160.80" fill="#000" filter="url(#lgb)"/>
<rect x="1071.20" y="782.90" width="164.60" height="160.80" fill="#000" filter="url(#lg)" opacity="0.26"/>
<text x="1080.70" y="805.90" font-size="20" fill="#3fcc3f" >α-SMA</text>
<text x="1160.40" y="925.70" font-size="20.4" fill="#fff" >40 µm</text>
<line x1="1161.20" y1="932.40" x2="1181.90" y2="932.40" stroke="#fff" stroke-width="2" />
<rect x="1238.20" y="782.90" width="161.80" height="160.80" fill="#04130a" />
<rect x="1238.20" y="782.90" width="161.80" height="160.80" fill="#000" filter="url(#lgb)" opacity="0.9"/>
<rect x="1238.20" y="782.90" width="161.80" height="160.80" fill="#000" filter="url(#lg)" opacity="0.182"/>
<clipPath id="fc42"><rect x="1238.20" y="782.90" width="161.80" height="160.80"/></clipPath>
<g clip-path="url(#fc42)"><rect x="1238.20" y="782.90" width="161.80" height="160.80" fill="#000" filter="url(#ld)" opacity="0.95"/></g>
<clipPath id="fc43"><rect x="1238.20" y="782.90" width="161.80" height="160.80"/></clipPath>
<g clip-path="url(#fc43)"><rect x="1238.20" y="782.90" width="161.80" height="160.80" fill="#000" filter="url(#ld2)" opacity="0.95"/></g>
<rect x="1238.20" y="782.90" width="161.80" height="160.80" fill="#000" filter="url(#lc)" opacity="0.8"/>
<text x="1246.20" y="805.90" font-size="19.3" fill="#000" ><tspan fill="#3a5fc8">M</tspan><tspan fill="#3fcc3f">er</tspan><tspan fill="#e07ccf">ge</tspan></text>
<text x="1332.40" y="925.70" font-size="20.4" fill="#fff" >40 µm</text>
<line x1="1333.20" y1="932.40" x2="1353.90" y2="932.40" stroke="#fff" stroke-width="2" />
<rect x="744.50" y="948.90" width="160.50" height="159.00" fill="#050409" />
<clipPath id="fc44"><rect x="744.50" y="948.90" width="160.50" height="159.00"/></clipPath>
<g clip-path="url(#fc44)"><rect x="744.50" y="948.90" width="160.50" height="159.00" fill="#000" filter="url(#ld)" opacity="0.9"/></g>
<text x="752.00" y="971.90" font-size="19.8" fill="#3a5fc2" >DAPI</text>
<text x="839.20" y="1089.90" font-size="20.4" fill="#fff" >40 µm</text>
<line x1="840.00" y1="1096.60" x2="860.70" y2="1096.60" stroke="#fff" stroke-width="2" />
<rect x="907.00" y="948.90" width="161.40" height="159.00" fill="#070308" />
<rect x="907.00" y="948.90" width="161.40" height="159.00" fill="#000" filter="url(#lc)" opacity="0.9"/>
<text x="914.50" y="971.90" font-size="20" fill="#d070c6" >Cy5-si<tspan font-style="italic">NC</tspan></text>
<text x="1001.70" y="1089.90" font-size="20.4" fill="#fff" >40 µm</text>
<line x1="1002.50" y1="1096.60" x2="1023.20" y2="1096.60" stroke="#fff" stroke-width="2" />
<rect x="1071.20" y="948.90" width="164.60" height="159.00" fill="#041507" />
<rect x="1071.20" y="948.90" width="164.60" height="159.00" fill="#000" filter="url(#lgb)"/>
<rect x="1071.20" y="948.90" width="164.60" height="159.00" fill="#000" filter="url(#lg)" opacity="0.4"/>
<path d="M1112.2 1036.9 q6 -13 28 -19 q22 -10 38 -11 q5 5 -6 11 q-20 8 -32 21 q-14 9 -26 7 z" fill="#020302"/>
<text x="1080.70" y="971.90" font-size="20" fill="#3fcc3f" >α-SMA</text>
<text x="1160.40" y="1089.90" font-size="20.4" fill="#fff" >40 µm</text>
<line x1="1161.20" y1="1096.60" x2="1181.90" y2="1096.60" stroke="#fff" stroke-width="2" />
<rect x="1238.20" y="948.90" width="161.80" height="159.00" fill="#04130a" />
<rect x="1238.20" y="948.90" width="161.80" height="159.00" fill="#000" filter="url(#lgb)" opacity="0.9"/>
<rect x="1238.20" y="948.90" width="161.80" height="159.00" fill="#000" filter="url(#lg)" opacity="0.27999999999999997"/>
<clipPath id="fc45"><rect x="1238.20" y="948.90" width="161.80" height="159.00"/></clipPath>
<g clip-path="url(#fc45)"><rect x="1238.20" y="948.90" width="161.80" height="159.00" fill="#000" filter="url(#ld)" opacity="0.95"/></g>
<clipPath id="fc46"><rect x="1238.20" y="948.90" width="161.80" height="159.00"/></clipPath>
<g clip-path="url(#fc46)"><rect x="1238.20" y="948.90" width="161.80" height="159.00" fill="#000" filter="url(#ld2)" opacity="0.95"/></g>
<rect x="1238.20" y="948.90" width="161.80" height="159.00" fill="#000" filter="url(#lc)" opacity="0.8"/>
<path d="M1279.2 1036.9 q6 -13 28 -19 q22 -10 38 -11 q5 5 -6 11 q-20 8 -32 21 q-14 9 -26 7 z" fill="#020302"/>
<text x="1246.20" y="971.90" font-size="19.3" fill="#000" ><tspan fill="#3a5fc8">M</tspan><tspan fill="#3fcc3f">er</tspan><tspan fill="#e07ccf">ge</tspan></text>
<text x="1332.40" y="1089.90" font-size="20.4" fill="#fff" >40 µm</text>
<line x1="1333.20" y1="1096.60" x2="1353.90" y2="1096.60" stroke="#fff" stroke-width="2" />
<rect x="744.50" y="1113.20" width="160.50" height="163.40" fill="#050409" />
<clipPath id="fc47"><rect x="744.50" y="1113.20" width="160.50" height="163.40"/></clipPath>
<g clip-path="url(#fc47)"><rect x="744.50" y="1113.20" width="160.50" height="163.40" fill="#000" filter="url(#ld)" opacity="0.9"/></g>
<text x="752.00" y="1136.20" font-size="19.8" fill="#3a5fc2" >DAPI</text>
<text x="839.20" y="1258.60" font-size="20.4" fill="#fff" >40 µm</text>
<line x1="840.00" y1="1265.30" x2="860.70" y2="1265.30" stroke="#fff" stroke-width="2" />
<rect x="907.00" y="1113.20" width="161.40" height="163.40" fill="#070308" />
<rect x="907.00" y="1113.20" width="161.40" height="163.40" fill="#000" filter="url(#lc)" opacity="0.9"/>
<text x="914.50" y="1136.20" font-size="20" fill="#d070c6" >Cy5-si<tspan font-style="italic">NC</tspan></text>
<text x="1001.70" y="1258.60" font-size="20.4" fill="#fff" >40 µm</text>
<line x1="1002.50" y1="1265.30" x2="1023.20" y2="1265.30" stroke="#fff" stroke-width="2" />
<rect x="1071.20" y="1113.20" width="164.60" height="163.40" fill="#041507" />
<rect x="1071.20" y="1113.20" width="164.60" height="163.40" fill="#000" filter="url(#lgb)"/>
<rect x="1071.20" y="1113.20" width="164.60" height="163.40" fill="#000" filter="url(#lg)" opacity="0.85"/>
<ellipse cx="1161.7" cy="1198.2" rx="69.1" ry="53.9" fill="url(#gglow)"/>
<text x="1080.70" y="1136.20" font-size="20" fill="#3fcc3f" >α-SMA</text>
<text x="1160.40" y="1258.60" font-size="20.4" fill="#fff" >40 µm</text>
<line x1="1161.20" y1="1265.30" x2="1181.90" y2="1265.30" stroke="#fff" stroke-width="2" />
<rect x="1238.20" y="1113.20" width="161.80" height="163.40" fill="#04130a" />
<rect x="1238.20" y="1113.20" width="161.80" height="163.40" fill="#000" filter="url(#lgb)" opacity="0.9"/>
<rect x="1238.20" y="1113.20" width="161.80" height="163.40" fill="#000" filter="url(#lg)" opacity="0.595"/>
<ellipse cx="1335.3" cy="1203.1" rx="64.7" ry="49.0" fill="url(#gglow)"/>
<clipPath id="fc48"><rect x="1238.20" y="1113.20" width="161.80" height="163.40"/></clipPath>
<g clip-path="url(#fc48)"><rect x="1238.20" y="1113.20" width="161.80" height="163.40" fill="#000" filter="url(#ld)" opacity="0.95"/></g>
<clipPath id="fc49"><rect x="1238.20" y="1113.20" width="161.80" height="163.40"/></clipPath>
<g clip-path="url(#fc49)"><rect x="1238.20" y="1113.20" width="161.80" height="163.40" fill="#000" filter="url(#ld2)" opacity="0.95"/></g>
<rect x="1238.20" y="1113.20" width="161.80" height="163.40" fill="#000" filter="url(#lc)" opacity="0.8"/>
<text x="1246.20" y="1136.20" font-size="19.3" fill="#000" ><tspan fill="#3a5fc8">M</tspan><tspan fill="#3fcc3f">er</tspan><tspan fill="#e07ccf">ge</tspan></text>
<text x="1332.40" y="1258.60" font-size="20.4" fill="#fff" >40 µm</text>
<line x1="1333.20" y1="1265.30" x2="1353.90" y2="1265.30" stroke="#fff" stroke-width="2" />
</g>
<text x="0" y="0" font-size="20" fill="#231815" text-anchor="middle" transform="translate(1412.30 872.00) rotate(90)" >IPM</text>
<text x="0" y="0" font-size="20" fill="#231815" text-anchor="middle" transform="translate(1412.30 1018.50) rotate(90)" >FAPi-IPM</text>
<text x="0" y="0" font-size="20" fill="#231815" text-anchor="middle" transform="translate(1412.30 1174.30) rotate(90)" >LNP</text>
<defs>
<linearGradient id="cbar" x1="0" x2="0" y1="0" y2="1">
<stop offset="0" stop-color="#3a0b0c"/><stop offset="0.12" stop-color="#6a1416"/><stop offset="0.30" stop-color="#ad2528"/><stop offset="0.48" stop-color="#e3261e"/>
<stop offset="0.62" stop-color="#ec4a1e"/><stop offset="0.75" stop-color="#ef8a2a"/><stop offset="0.88" stop-color="#f2cc38"/><stop offset="1" stop-color="#f3f53c"/></linearGradient>
<filter id="mn" x="0" y="0" width="100%" height="100%" color-interpolation-filters="sRGB">
 <feTurbulence type="fractalNoise" baseFrequency="0.9" numOctaves="1" seed="2"/>
 <feColorMatrix type="matrix" values="0.3 0 0 0 0.13  0.3 0 0 0 0.13  0.3 0 0 0 0.13  0 0 0 0 1"/>
</filter>
<filter id="mn2" x="0" y="0" width="100%" height="100%" color-interpolation-filters="sRGB">
 <feTurbulence type="fractalNoise" baseFrequency="0.9" numOctaves="1" seed="5"/>
 <feColorMatrix type="matrix" values="0.3 0 0 0 0.09  0.3 0 0 0 0.09  0.3 0 0 0 0.09  0 0 0 0 1"/>
</filter>
<radialGradient id="hr"><stop offset="0" stop-color="#e8321c"/><stop offset="0.45" stop-color="#ee6a20"/><stop offset="0.8" stop-color="#f2a82c"/><stop offset="1" stop-color="#f4f03a"/></radialGradient>
<radialGradient id="ho"><stop offset="0" stop-color="#ee6a20"/><stop offset="0.5" stop-color="#f2a62c"/><stop offset="0.85" stop-color="#f4e038"/><stop offset="1" stop-color="#f4f53c"/></radialGradient>
<radialGradient id="hy"><stop offset="0" stop-color="#f2b830"/><stop offset="0.6" stop-color="#f4e43a"/><stop offset="1" stop-color="#f4f53c"/></radialGradient>
<radialGradient id="hrr"><stop offset="0" stop-color="#e3261c"/><stop offset="0.6" stop-color="#e93a1c"/><stop offset="0.85" stop-color="#f08a26"/><stop offset="1" stop-color="#f4f03a"/></radialGradient>
<filter id="halo" x="-20%" y="-20%" width="140%" height="140%"><feGaussianBlur stdDeviation="1.0"/></filter><filter id="halo2" x="-20%" y="-20%" width="140%" height="140%"><feGaussianBlur stdDeviation="0.7"/></filter>
</defs>
<defs><filter id="hb20" x="-50%" y="-50%" width="200%" height="200%"><feGaussianBlur stdDeviation="2.0"/></filter><filter id="hb26" x="-50%" y="-50%" width="200%" height="200%"><feGaussianBlur stdDeviation="2.6"/></filter><filter id="hb30" x="-50%" y="-50%" width="200%" height="200%"><feGaussianBlur stdDeviation="3.0"/></filter><filter id="hb32" x="-50%" y="-50%" width="200%" height="200%"><feGaussianBlur stdDeviation="3.2"/></filter><filter id="hb35" x="-50%" y="-50%" width="200%" height="200%"><feGaussianBlur stdDeviation="3.5"/></filter></defs>
<text x="1701.30" y="767.50" font-size="19.3" fill="#111" text-anchor="middle" >IPM</text>
<line x1="1480.00" y1="773.20" x2="1911.30" y2="773.20" stroke="#111" stroke-width="1.5" />
<text x="1701.30" y="920.00" font-size="19.3" fill="#111" text-anchor="middle" >FAPi-IPM</text>
<line x1="1480.00" y1="925.30" x2="1910.00" y2="925.30" stroke="#111" stroke-width="1.5" />
<text x="1701.30" y="1070.00" font-size="19.3" fill="#111" text-anchor="middle" >LNP</text>
<line x1="1480.00" y1="1074.60" x2="1911.50" y2="1074.60" stroke="#111" stroke-width="1.5" />
<clipPath id="mc00"><rect x="1480.5" y="781.8" width="137.5" height="102.0"/></clipPath>
<rect x="1480.50" y="781.80" width="137.50" height="102.00" fill="#484848" filter="url(#mn)"/>
<g clip-path="url(#mc00)">
<clipPath id="bc00"><path d="M1501.4 826.9 L1505.1 823.3 L1516.4 823.7 L1523.7 822.1 L1524.1 816.0 L1527.7 812.4 L1531.0 808.7 L1537.8 805.1 L1538.2 797.4 L1545.5 797.4 L1545.7 800.9 L1549.2 801.4 L1571.4 801.2 L1574.6 804.3 L1581.9 808.7 L1585.5 812.4 L1586.0 826.5 L1589.2 827.7 L1589.2 844.7 L1585.5 849.6 L1581.9 856.0 L1578.3 859.7 L1574.6 863.7 L1571.0 868.2 L1560.1 868.2 L1556.4 864.5 L1556.0 860.9 L1542.3 860.9 L1541.9 857.6 L1523.7 857.2 L1523.3 854.0 L1516.4 853.6 L1516.0 850.0 L1512.4 849.6 L1508.7 845.9 L1505.1 842.3 L1504.7 837.8 L1501.4 837.4Z"/></clipPath>
<path d="M1501.4 826.9 L1505.1 823.3 L1516.4 823.7 L1523.7 822.1 L1524.1 816.0 L1527.7 812.4 L1531.0 808.7 L1537.8 805.1 L1538.2 797.4 L1545.5 797.4 L1545.7 800.9 L1549.2 801.4 L1571.4 801.2 L1574.6 804.3 L1581.9 808.7 L1585.5 812.4 L1586.0 826.5 L1589.2 827.7 L1589.2 844.7 L1585.5 849.6 L1581.9 856.0 L1578.3 859.7 L1574.6 863.7 L1571.0 868.2 L1560.1 868.2 L1556.4 864.5 L1556.0 860.9 L1542.3 860.9 L1541.9 857.6 L1523.7 857.2 L1523.3 854.0 L1516.4 853.6 L1516.0 850.0 L1512.4 849.6 L1508.7 845.9 L1505.1 842.3 L1504.7 837.8 L1501.4 837.4Z" fill="none" stroke="#0c0c0c" stroke-width="12.5" stroke-linejoin="round" filter="url(#halo)" opacity="0.95"/>
<path d="M1501.4 826.9 L1505.1 823.3 L1516.4 823.7 L1523.7 822.1 L1524.1 816.0 L1527.7 812.4 L1531.0 808.7 L1537.8 805.1 L1538.2 797.4 L1545.5 797.4 L1545.7 800.9 L1549.2 801.4 L1571.4 801.2 L1574.6 804.3 L1581.9 808.7 L1585.5 812.4 L1586.0 826.5 L1589.2 827.7 L1589.2 844.7 L1585.5 849.6 L1581.9 856.0 L1578.3 859.7 L1574.6 863.7 L1571.0 868.2 L1560.1 868.2 L1556.4 864.5 L1556.0 860.9 L1542.3 860.9 L1541.9 857.6 L1523.7 857.2 L1523.3 854.0 L1516.4 853.6 L1516.0 850.0 L1512.4 849.6 L1508.7 845.9 L1505.1 842.3 L1504.7 837.8 L1501.4 837.4Z" fill="#555" stroke="#555" stroke-width="7.5" stroke-linejoin="round" filter="url(#halo2)"/>
<path d="M1501.4 826.9 L1505.1 823.3 L1516.4 823.7 L1523.7 822.1 L1524.1 816.0 L1527.7 812.4 L1531.0 808.7 L1537.8 805.1 L1538.2 797.4 L1545.5 797.4 L1545.7 800.9 L1549.2 801.4 L1571.4 801.2 L1574.6 804.3 L1581.9 808.7 L1585.5 812.4 L1586.0 826.5 L1589.2 827.7 L1589.2 844.7 L1585.5 849.6 L1581.9 856.0 L1578.3 859.7 L1574.6 863.7 L1571.0 868.2 L1560.1 868.2 L1556.4 864.5 L1556.0 860.9 L1542.3 860.9 L1541.9 857.6 L1523.7 857.2 L1523.3 854.0 L1516.4 853.6 L1516.0 850.0 L1512.4 849.6 L1508.7 845.9 L1505.1 842.3 L1504.7 837.8 L1501.4 837.4Z" fill="#eff53c"/>
<g clip-path="url(#bc00)">
<path d="M1501.4 826.9 L1505.1 823.3 L1516.4 823.7 L1523.7 822.1 L1524.1 816.0 L1527.7 812.4 L1531.0 808.7 L1537.8 805.1 L1538.2 797.4 L1545.5 797.4 L1545.7 800.9 L1549.2 801.4 L1571.4 801.2 L1574.6 804.3 L1581.9 808.7 L1585.5 812.4 L1586.0 826.5 L1589.2 827.7 L1589.2 844.7 L1585.5 849.6 L1581.9 856.0 L1578.3 859.7 L1574.6 863.7 L1571.0 868.2 L1560.1 868.2 L1556.4 864.5 L1556.0 860.9 L1542.3 860.9 L1541.9 857.6 L1523.7 857.2 L1523.3 854.0 L1516.4 853.6 L1516.0 850.0 L1512.4 849.6 L1508.7 845.9 L1505.1 842.3 L1504.7 837.8 L1501.4 837.4Z" fill="#f08a26" transform="translate(1544.3 834.1) scale(0.86) translate(-1544.3 -834.1)" filter="url(#hb30)"/>
<ellipse cx="1556.8" cy="828.5" rx="18.6" ry="21.0" fill="#ea5a20" opacity="0.95" filter="url(#hb20)"/>
<ellipse cx="1551.2" cy="814.0" rx="4.9" ry="4.0" fill="#e62a1c" opacity="0.9" filter="url(#hb20)"/>
<ellipse cx="1560.9" cy="836.6" rx="9.7" ry="4.9" fill="#e63a1c" opacity="0.8" filter="url(#hb20)"/>
</g>
<path d="M1524.1 830.0h17.5v4h-7.5v3h-6v-3h-4z M1531.6 819.5h4v5h4v5.5h-8z" fill="#2a2a2a" transform="translate(1532.6 828.5) scale(.85) translate(-1532.6 -828.5)"/>
</g>
<clipPath id="mc01"><rect x="1627" y="781.8" width="137.5" height="102.0"/></clipPath>
<rect x="1627.00" y="781.80" width="137.50" height="102.00" fill="#484848" filter="url(#mn)"/>
<g clip-path="url(#mc01)">
<clipPath id="bc01"><path d="M1678.4 791.3 L1711.9 791.3 L1712.4 795.0 L1716.0 795.4 L1719.2 799.0 L1719.6 805.9 L1723.3 806.3 L1723.3 827.7 L1716.0 828.1 L1715.6 831.8 L1712.4 832.2 L1711.9 837.4 L1708.3 837.8 L1708.3 840.3 L1711.9 840.7 L1711.9 859.3 L1708.3 859.7 L1707.9 862.9 L1689.7 862.9 L1689.3 859.7 L1675.1 859.3 L1674.7 856.0 L1671.1 855.6 L1670.7 844.7 L1667.5 844.3 L1667.1 833.8 L1663.8 833.4 L1663.4 828.5 L1660.2 828.1 L1659.8 820.8 L1656.5 820.4 L1656.9 809.9 L1660.2 809.5 L1660.6 802.6 L1667.5 802.2 L1667.9 799.0 L1671.1 798.6 L1671.5 795.0 L1678.0 795.0Z"/></clipPath>
<path d="M1678.4 791.3 L1711.9 791.3 L1712.4 795.0 L1716.0 795.4 L1719.2 799.0 L1719.6 805.9 L1723.3 806.3 L1723.3 827.7 L1716.0 828.1 L1715.6 831.8 L1712.4 832.2 L1711.9 837.4 L1708.3 837.8 L1708.3 840.3 L1711.9 840.7 L1711.9 859.3 L1708.3 859.7 L1707.9 862.9 L1689.7 862.9 L1689.3 859.7 L1675.1 859.3 L1674.7 856.0 L1671.1 855.6 L1670.7 844.7 L1667.5 844.3 L1667.1 833.8 L1663.8 833.4 L1663.4 828.5 L1660.2 828.1 L1659.8 820.8 L1656.5 820.4 L1656.9 809.9 L1660.2 809.5 L1660.6 802.6 L1667.5 802.2 L1667.9 799.0 L1671.1 798.6 L1671.5 795.0 L1678.0 795.0Z" fill="none" stroke="#0c0c0c" stroke-width="12.5" stroke-linejoin="round" filter="url(#halo)" opacity="0.95"/>
<path d="M1678.4 791.3 L1711.9 791.3 L1712.4 795.0 L1716.0 795.4 L1719.2 799.0 L1719.6 805.9 L1723.3 806.3 L1723.3 827.7 L1716.0 828.1 L1715.6 831.8 L1712.4 832.2 L1711.9 837.4 L1708.3 837.8 L1708.3 840.3 L1711.9 840.7 L1711.9 859.3 L1708.3 859.7 L1707.9 862.9 L1689.7 862.9 L1689.3 859.7 L1675.1 859.3 L1674.7 856.0 L1671.1 855.6 L1670.7 844.7 L1667.5 844.3 L1667.1 833.8 L1663.8 833.4 L1663.4 828.5 L1660.2 828.1 L1659.8 820.8 L1656.5 820.4 L1656.9 809.9 L1660.2 809.5 L1660.6 802.6 L1667.5 802.2 L1667.9 799.0 L1671.1 798.6 L1671.5 795.0 L1678.0 795.0Z" fill="#555" stroke="#555" stroke-width="7.5" stroke-linejoin="round" filter="url(#halo2)"/>
<path d="M1678.4 791.3 L1711.9 791.3 L1712.4 795.0 L1716.0 795.4 L1719.2 799.0 L1719.6 805.9 L1723.3 806.3 L1723.3 827.7 L1716.0 828.1 L1715.6 831.8 L1712.4 832.2 L1711.9 837.4 L1708.3 837.8 L1708.3 840.3 L1711.9 840.7 L1711.9 859.3 L1708.3 859.7 L1707.9 862.9 L1689.7 862.9 L1689.3 859.7 L1675.1 859.3 L1674.7 856.0 L1671.1 855.6 L1670.7 844.7 L1667.5 844.3 L1667.1 833.8 L1663.8 833.4 L1663.4 828.5 L1660.2 828.1 L1659.8 820.8 L1656.5 820.4 L1656.9 809.9 L1660.2 809.5 L1660.6 802.6 L1667.5 802.2 L1667.9 799.0 L1671.1 798.6 L1671.5 795.0 L1678.0 795.0Z" fill="#eff53c"/>
<g clip-path="url(#bc01)">
<path d="M1678.4 791.3 L1711.9 791.3 L1712.4 795.0 L1716.0 795.4 L1719.2 799.0 L1719.6 805.9 L1723.3 806.3 L1723.3 827.7 L1716.0 828.1 L1715.6 831.8 L1712.4 832.2 L1711.9 837.4 L1708.3 837.8 L1708.3 840.3 L1711.9 840.7 L1711.9 859.3 L1708.3 859.7 L1707.9 862.9 L1689.7 862.9 L1689.3 859.7 L1675.1 859.3 L1674.7 856.0 L1671.1 855.6 L1670.7 844.7 L1667.5 844.3 L1667.1 833.8 L1663.8 833.4 L1663.4 828.5 L1660.2 828.1 L1659.8 820.8 L1656.5 820.4 L1656.9 809.9 L1660.2 809.5 L1660.6 802.6 L1667.5 802.2 L1667.9 799.0 L1671.1 798.6 L1671.5 795.0 L1678.0 795.0Z" fill="#f3cf38" transform="translate(1688.7 825.7) scale(0.8) translate(-1688.7 -825.7)" filter="url(#hb35)"/>
<ellipse cx="1708.3" cy="806.7" rx="8.9" ry="11.3" fill="#ee8228" opacity="0.95" filter="url(#hb20)"/>
<ellipse cx="1681.6" cy="816.4" rx="17.8" ry="16.2" fill="#f2b432" opacity="0.6" filter="url(#hb20)"/>
<ellipse cx="1688.9" cy="843.9" rx="8.1" ry="7.3" fill="#ee8a28" opacity="0.9" filter="url(#hb20)"/>
<ellipse cx="1688.5" cy="841.5" rx="3.2" ry="3.2" fill="#e6281c" opacity="1" filter="url(#hb20)"/>
</g>
</g>
<clipPath id="mc02"><rect x="1773.8" y="781.8" width="137.5" height="102.0"/></clipPath>
<rect x="1773.80" y="781.80" width="137.50" height="102.00" fill="#484848" filter="url(#mn)"/>
<g clip-path="url(#mc02)">
<clipPath id="bc02"><path d="M1866.6 799.0 L1870.3 799.0 L1870.3 801.0 L1873.9 801.4 L1874.3 804.7 L1878.0 805.1 L1878.0 815.6 L1881.2 816.0 L1881.6 833.8 L1878.0 834.2 L1878.0 841.1 L1874.7 841.5 L1874.3 852.4 L1878.0 852.8 L1877.5 856.0 L1874.3 856.4 L1873.9 859.7 L1852.1 859.7 L1851.7 856.0 L1848.4 855.6 L1848.0 852.0 L1845.2 852.4 L1844.8 856.0 L1841.6 856.4 L1841.2 859.7 L1837.9 860.1 L1837.5 863.3 L1830.2 863.7 L1829.8 866.9 L1827.0 866.9 L1826.6 863.7 L1815.7 863.3 L1815.3 859.7 L1812.0 859.3 L1811.6 856.0 L1808.4 855.6 L1808.0 852.0 L1806.8 851.6 L1806.4 837.8 L1808.0 837.4 L1808.4 826.9 L1811.6 826.5 L1812.0 822.9 L1815.3 822.5 L1815.7 819.2 L1818.9 818.8 L1819.3 815.6 L1823.0 815.2 L1823.4 811.9 L1830.2 811.5 L1830.6 808.3 L1855.7 807.9 L1856.1 804.7 L1859.4 804.3 L1859.8 801.0 L1866.2 801.0Z"/></clipPath>
<path d="M1866.6 799.0 L1870.3 799.0 L1870.3 801.0 L1873.9 801.4 L1874.3 804.7 L1878.0 805.1 L1878.0 815.6 L1881.2 816.0 L1881.6 833.8 L1878.0 834.2 L1878.0 841.1 L1874.7 841.5 L1874.3 852.4 L1878.0 852.8 L1877.5 856.0 L1874.3 856.4 L1873.9 859.7 L1852.1 859.7 L1851.7 856.0 L1848.4 855.6 L1848.0 852.0 L1845.2 852.4 L1844.8 856.0 L1841.6 856.4 L1841.2 859.7 L1837.9 860.1 L1837.5 863.3 L1830.2 863.7 L1829.8 866.9 L1827.0 866.9 L1826.6 863.7 L1815.7 863.3 L1815.3 859.7 L1812.0 859.3 L1811.6 856.0 L1808.4 855.6 L1808.0 852.0 L1806.8 851.6 L1806.4 837.8 L1808.0 837.4 L1808.4 826.9 L1811.6 826.5 L1812.0 822.9 L1815.3 822.5 L1815.7 819.2 L1818.9 818.8 L1819.3 815.6 L1823.0 815.2 L1823.4 811.9 L1830.2 811.5 L1830.6 808.3 L1855.7 807.9 L1856.1 804.7 L1859.4 804.3 L1859.8 801.0 L1866.2 801.0Z" fill="none" stroke="#0c0c0c" stroke-width="12.5" stroke-linejoin="round" filter="url(#halo)" opacity="0.95"/>
<path d="M1866.6 799.0 L1870.3 799.0 L1870.3 801.0 L1873.9 801.4 L1874.3 804.7 L1878.0 805.1 L1878.0 815.6 L1881.2 816.0 L1881.6 833.8 L1878.0 834.2 L1878.0 841.1 L1874.7 841.5 L1874.3 852.4 L1878.0 852.8 L1877.5 856.0 L1874.3 856.4 L1873.9 859.7 L1852.1 859.7 L1851.7 856.0 L1848.4 855.6 L1848.0 852.0 L1845.2 852.4 L1844.8 856.0 L1841.6 856.4 L1841.2 859.7 L1837.9 860.1 L1837.5 863.3 L1830.2 863.7 L1829.8 866.9 L1827.0 866.9 L1826.6 863.7 L1815.7 863.3 L1815.3 859.7 L1812.0 859.3 L1811.6 856.0 L1808.4 855.6 L1808.0 852.0 L1806.8 851.6 L1806.4 837.8 L1808.0 837.4 L1808.4 826.9 L1811.6 826.5 L1812.0 822.9 L1815.3 822.5 L1815.7 819.2 L1818.9 818.8 L1819.3 815.6 L1823.0 815.2 L1823.4 811.9 L1830.2 811.5 L1830.6 808.3 L1855.7 807.9 L1856.1 804.7 L1859.4 804.3 L1859.8 801.0 L1866.2 801.0Z" fill="#555" stroke="#555" stroke-width="7.5" stroke-linejoin="round" filter="url(#halo2)"/>
<path d="M1866.6 799.0 L1870.3 799.0 L1870.3 801.0 L1873.9 801.4 L1874.3 804.7 L1878.0 805.1 L1878.0 815.6 L1881.2 816.0 L1881.6 833.8 L1878.0 834.2 L1878.0 841.1 L1874.7 841.5 L1874.3 852.4 L1878.0 852.8 L1877.5 856.0 L1874.3 856.4 L1873.9 859.7 L1852.1 859.7 L1851.7 856.0 L1848.4 855.6 L1848.0 852.0 L1845.2 852.4 L1844.8 856.0 L1841.6 856.4 L1841.2 859.7 L1837.9 860.1 L1837.5 863.3 L1830.2 863.7 L1829.8 866.9 L1827.0 866.9 L1826.6 863.7 L1815.7 863.3 L1815.3 859.7 L1812.0 859.3 L1811.6 856.0 L1808.4 855.6 L1808.0 852.0 L1806.8 851.6 L1806.4 837.8 L1808.0 837.4 L1808.4 826.9 L1811.6 826.5 L1812.0 822.9 L1815.3 822.5 L1815.7 819.2 L1818.9 818.8 L1819.3 815.6 L1823.0 815.2 L1823.4 811.9 L1830.2 811.5 L1830.6 808.3 L1855.7 807.9 L1856.1 804.7 L1859.4 804.3 L1859.8 801.0 L1866.2 801.0Z" fill="#eff53c"/>
<g clip-path="url(#bc02)">
<path d="M1866.6 799.0 L1870.3 799.0 L1870.3 801.0 L1873.9 801.4 L1874.3 804.7 L1878.0 805.1 L1878.0 815.6 L1881.2 816.0 L1881.6 833.8 L1878.0 834.2 L1878.0 841.1 L1874.7 841.5 L1874.3 852.4 L1878.0 852.8 L1877.5 856.0 L1874.3 856.4 L1873.9 859.7 L1852.1 859.7 L1851.7 856.0 L1848.4 855.6 L1848.0 852.0 L1845.2 852.4 L1844.8 856.0 L1841.6 856.4 L1841.2 859.7 L1837.9 860.1 L1837.5 863.3 L1830.2 863.7 L1829.8 866.9 L1827.0 866.9 L1826.6 863.7 L1815.7 863.3 L1815.3 859.7 L1812.0 859.3 L1811.6 856.0 L1808.4 855.6 L1808.0 852.0 L1806.8 851.6 L1806.4 837.8 L1808.0 837.4 L1808.4 826.9 L1811.6 826.5 L1812.0 822.9 L1815.3 822.5 L1815.7 819.2 L1818.9 818.8 L1819.3 815.6 L1823.0 815.2 L1823.4 811.9 L1830.2 811.5 L1830.6 808.3 L1855.7 807.9 L1856.1 804.7 L1859.4 804.3 L1859.8 801.0 L1866.2 801.0Z" fill="#f3c636" transform="translate(1843.6 835.6) scale(0.82) translate(-1843.6 -835.6)" filter="url(#hb35)"/>
<ellipse cx="1869.1" cy="819.6" rx="8.1" ry="15.4" fill="#ee8428" opacity="0.95" filter="url(#hb20)"/>
<ellipse cx="1844.8" cy="843.9" rx="21.8" ry="8.9" fill="#f09a2c" opacity="0.85" filter="url(#hb20)"/>
<ellipse cx="1850.0" cy="839.4" rx="2.8" ry="2.8" fill="#e8481e" opacity="1" filter="url(#hb20)"/>
<ellipse cx="1835.1" cy="820.4" rx="10.5" ry="7.3" fill="#f2b834" opacity="0.6" filter="url(#hb20)"/>
</g>
</g>
<clipPath id="mc10"><rect x="1480.3" y="933.8" width="136.5" height="102.0"/></clipPath>
<rect x="1480.30" y="933.80" width="136.50" height="102.00" fill="#484848" filter="url(#mn)"/>
<g clip-path="url(#mc10)">
<clipPath id="bc10"><path d="M1513.6 955.1 L1528.1 955.1 L1528.5 951.0 L1524.5 947.4 L1526.5 945.3 L1533.8 946.2 L1535.4 950.6 L1535.8 955.1 L1539.1 955.5 L1539.1 959.1 L1536.2 959.5 L1536.2 961.9 L1539.5 962.3 L1539.9 966.0 L1557.7 965.6 L1558.1 962.3 L1583.1 962.3 L1583.5 965.6 L1586.8 966.0 L1586.8 987.0 L1583.1 987.4 L1583.1 994.3 L1579.5 994.7 L1579.1 997.9 L1575.9 998.3 L1575.5 1001.6 L1572.2 1002.0 L1571.8 1008.8 L1543.1 1009.2 L1542.7 1005.2 L1539.5 1004.8 L1539.1 1001.6 L1535.8 1001.2 L1535.4 997.9 L1528.1 997.5 L1527.7 994.7 L1510.4 994.3 L1509.9 987.8 L1506.3 987.4 L1506.3 984.2 L1509.9 983.8 L1509.9 958.7 L1513.6 958.3Z"/></clipPath>
<path d="M1513.6 955.1 L1528.1 955.1 L1528.5 951.0 L1524.5 947.4 L1526.5 945.3 L1533.8 946.2 L1535.4 950.6 L1535.8 955.1 L1539.1 955.5 L1539.1 959.1 L1536.2 959.5 L1536.2 961.9 L1539.5 962.3 L1539.9 966.0 L1557.7 965.6 L1558.1 962.3 L1583.1 962.3 L1583.5 965.6 L1586.8 966.0 L1586.8 987.0 L1583.1 987.4 L1583.1 994.3 L1579.5 994.7 L1579.1 997.9 L1575.9 998.3 L1575.5 1001.6 L1572.2 1002.0 L1571.8 1008.8 L1543.1 1009.2 L1542.7 1005.2 L1539.5 1004.8 L1539.1 1001.6 L1535.8 1001.2 L1535.4 997.9 L1528.1 997.5 L1527.7 994.7 L1510.4 994.3 L1509.9 987.8 L1506.3 987.4 L1506.3 984.2 L1509.9 983.8 L1509.9 958.7 L1513.6 958.3Z" fill="none" stroke="#0c0c0c" stroke-width="12.5" stroke-linejoin="round" filter="url(#halo)" opacity="0.95"/>
<path d="M1513.6 955.1 L1528.1 955.1 L1528.5 951.0 L1524.5 947.4 L1526.5 945.3 L1533.8 946.2 L1535.4 950.6 L1535.8 955.1 L1539.1 955.5 L1539.1 959.1 L1536.2 959.5 L1536.2 961.9 L1539.5 962.3 L1539.9 966.0 L1557.7 965.6 L1558.1 962.3 L1583.1 962.3 L1583.5 965.6 L1586.8 966.0 L1586.8 987.0 L1583.1 987.4 L1583.1 994.3 L1579.5 994.7 L1579.1 997.9 L1575.9 998.3 L1575.5 1001.6 L1572.2 1002.0 L1571.8 1008.8 L1543.1 1009.2 L1542.7 1005.2 L1539.5 1004.8 L1539.1 1001.6 L1535.8 1001.2 L1535.4 997.9 L1528.1 997.5 L1527.7 994.7 L1510.4 994.3 L1509.9 987.8 L1506.3 987.4 L1506.3 984.2 L1509.9 983.8 L1509.9 958.7 L1513.6 958.3Z" fill="#555" stroke="#555" stroke-width="7.5" stroke-linejoin="round" filter="url(#halo2)"/>
<path d="M1513.6 955.1 L1528.1 955.1 L1528.5 951.0 L1524.5 947.4 L1526.5 945.3 L1533.8 946.2 L1535.4 950.6 L1535.8 955.1 L1539.1 955.5 L1539.1 959.1 L1536.2 959.5 L1536.2 961.9 L1539.5 962.3 L1539.9 966.0 L1557.7 965.6 L1558.1 962.3 L1583.1 962.3 L1583.5 965.6 L1586.8 966.0 L1586.8 987.0 L1583.1 987.4 L1583.1 994.3 L1579.5 994.7 L1579.1 997.9 L1575.9 998.3 L1575.5 1001.6 L1572.2 1002.0 L1571.8 1008.8 L1543.1 1009.2 L1542.7 1005.2 L1539.5 1004.8 L1539.1 1001.6 L1535.8 1001.2 L1535.4 997.9 L1528.1 997.5 L1527.7 994.7 L1510.4 994.3 L1509.9 987.8 L1506.3 987.4 L1506.3 984.2 L1509.9 983.8 L1509.9 958.7 L1513.6 958.3Z" fill="#eff53c"/>
<g clip-path="url(#bc10)">
<path d="M1513.6 955.1 L1528.1 955.1 L1528.5 951.0 L1524.5 947.4 L1526.5 945.3 L1533.8 946.2 L1535.4 950.6 L1535.8 955.1 L1539.1 955.5 L1539.1 959.1 L1536.2 959.5 L1536.2 961.9 L1539.5 962.3 L1539.9 966.0 L1557.7 965.6 L1558.1 962.3 L1583.1 962.3 L1583.5 965.6 L1586.8 966.0 L1586.8 987.0 L1583.1 987.4 L1583.1 994.3 L1579.5 994.7 L1579.1 997.9 L1575.9 998.3 L1575.5 1001.6 L1572.2 1002.0 L1571.8 1008.8 L1543.1 1009.2 L1542.7 1005.2 L1539.5 1004.8 L1539.1 1001.6 L1535.8 1001.2 L1535.4 997.9 L1528.1 997.5 L1527.7 994.7 L1510.4 994.3 L1509.9 987.8 L1506.3 987.4 L1506.3 984.2 L1509.9 983.8 L1509.9 958.7 L1513.6 958.3Z" fill="#ee6a22" transform="translate(1544.0 977.4) scale(0.84) translate(-1544.0 -977.4)" filter="url(#hb30)"/>
<ellipse cx="1558.9" cy="981.3" rx="19.4" ry="15.4" fill="#e62a1c" opacity="0.95" filter="url(#hb20)"/>
<ellipse cx="1527.3" cy="973.2" rx="11.3" ry="9.7" fill="#e8381c" opacity="0.9" filter="url(#hb20)"/>
<ellipse cx="1568.6" cy="981.3" rx="3.2" ry="5.3" fill="#c82424" opacity="0.9" filter="url(#hb20)"/>
<ellipse cx="1520.1" cy="988.6" rx="11.3" ry="4.9" fill="#f4e03a" opacity="0.9" filter="url(#hb20)"/>
</g>
</g>
<clipPath id="mc11"><rect x="1626" y="933.8" width="137.3" height="102.0"/></clipPath>
<rect x="1626.00" y="933.80" width="137.30" height="102.00" fill="#484848" filter="url(#mn)"/>
<g clip-path="url(#mc11)">
<clipPath id="bc11"><path d="M1709.7 941.3 L1717.0 941.3 L1717.4 944.9 L1724.3 945.3 L1724.7 948.6 L1727.9 949.0 L1728.3 952.2 L1731.6 952.6 L1732.0 955.9 L1735.2 956.3 L1735.6 963.1 L1738.8 963.5 L1738.8 966.4 L1736.0 966.8 L1735.6 999.1 L1732.4 999.5 L1732.0 1006.4 L1728.3 1006.8 L1727.9 1010.0 L1724.7 1010.5 L1724.3 1012.1 L1721.1 1012.5 L1720.7 1015.7 L1710.1 1015.7 L1709.7 1012.1 L1706.5 1011.7 L1706.1 1008.4 L1702.9 1008.0 L1702.5 1004.8 L1699.2 1004.4 L1698.8 1001.2 L1687.9 1000.7 L1687.5 999.1 L1681.0 999.1 L1680.6 1004.8 L1677.4 1005.2 L1677.0 1008.4 L1673.3 1008.8 L1672.9 1011.7 L1659.2 1011.7 L1658.8 1008.4 L1651.5 1008.0 L1651.1 1004.8 L1647.9 1004.4 L1647.9 996.3 L1651.1 995.9 L1651.1 980.9 L1647.9 980.5 L1647.9 974.1 L1651.1 973.7 L1651.5 966.8 L1654.7 966.4 L1655.1 963.1 L1658.8 962.7 L1659.2 959.5 L1669.7 959.1 L1670.1 955.5 L1672.9 955.5 L1673.3 959.1 L1676.6 959.5 L1677.0 963.1 L1680.6 963.5 L1681.0 966.8 L1684.3 967.2 L1684.7 973.2 L1687.9 973.2 L1688.3 970.0 L1691.5 970.0 L1691.9 973.2 L1695.2 973.2 L1695.2 966.8 L1691.9 966.4 L1691.5 963.1 L1684.7 962.7 L1684.7 959.5 L1702.0 959.1 L1702.5 949.0 L1706.1 948.6 L1706.5 944.9 L1709.7 944.9Z"/></clipPath>
<path d="M1709.7 941.3 L1717.0 941.3 L1717.4 944.9 L1724.3 945.3 L1724.7 948.6 L1727.9 949.0 L1728.3 952.2 L1731.6 952.6 L1732.0 955.9 L1735.2 956.3 L1735.6 963.1 L1738.8 963.5 L1738.8 966.4 L1736.0 966.8 L1735.6 999.1 L1732.4 999.5 L1732.0 1006.4 L1728.3 1006.8 L1727.9 1010.0 L1724.7 1010.5 L1724.3 1012.1 L1721.1 1012.5 L1720.7 1015.7 L1710.1 1015.7 L1709.7 1012.1 L1706.5 1011.7 L1706.1 1008.4 L1702.9 1008.0 L1702.5 1004.8 L1699.2 1004.4 L1698.8 1001.2 L1687.9 1000.7 L1687.5 999.1 L1681.0 999.1 L1680.6 1004.8 L1677.4 1005.2 L1677.0 1008.4 L1673.3 1008.8 L1672.9 1011.7 L1659.2 1011.7 L1658.8 1008.4 L1651.5 1008.0 L1651.1 1004.8 L1647.9 1004.4 L1647.9 996.3 L1651.1 995.9 L1651.1 980.9 L1647.9 980.5 L1647.9 974.1 L1651.1 973.7 L1651.5 966.8 L1654.7 966.4 L1655.1 963.1 L1658.8 962.7 L1659.2 959.5 L1669.7 959.1 L1670.1 955.5 L1672.9 955.5 L1673.3 959.1 L1676.6 959.5 L1677.0 963.1 L1680.6 963.5 L1681.0 966.8 L1684.3 967.2 L1684.7 973.2 L1687.9 973.2 L1688.3 970.0 L1691.5 970.0 L1691.9 973.2 L1695.2 973.2 L1695.2 966.8 L1691.9 966.4 L1691.5 963.1 L1684.7 962.7 L1684.7 959.5 L1702.0 959.1 L1702.5 949.0 L1706.1 948.6 L1706.5 944.9 L1709.7 944.9Z" fill="none" stroke="#0c0c0c" stroke-width="12.5" stroke-linejoin="round" filter="url(#halo)" opacity="0.95"/>
<path d="M1709.7 941.3 L1717.0 941.3 L1717.4 944.9 L1724.3 945.3 L1724.7 948.6 L1727.9 949.0 L1728.3 952.2 L1731.6 952.6 L1732.0 955.9 L1735.2 956.3 L1735.6 963.1 L1738.8 963.5 L1738.8 966.4 L1736.0 966.8 L1735.6 999.1 L1732.4 999.5 L1732.0 1006.4 L1728.3 1006.8 L1727.9 1010.0 L1724.7 1010.5 L1724.3 1012.1 L1721.1 1012.5 L1720.7 1015.7 L1710.1 1015.7 L1709.7 1012.1 L1706.5 1011.7 L1706.1 1008.4 L1702.9 1008.0 L1702.5 1004.8 L1699.2 1004.4 L1698.8 1001.2 L1687.9 1000.7 L1687.5 999.1 L1681.0 999.1 L1680.6 1004.8 L1677.4 1005.2 L1677.0 1008.4 L1673.3 1008.8 L1672.9 1011.7 L1659.2 1011.7 L1658.8 1008.4 L1651.5 1008.0 L1651.1 1004.8 L1647.9 1004.4 L1647.9 996.3 L1651.1 995.9 L1651.1 980.9 L1647.9 980.5 L1647.9 974.1 L1651.1 973.7 L1651.5 966.8 L1654.7 966.4 L1655.1 963.1 L1658.8 962.7 L1659.2 959.5 L1669.7 959.1 L1670.1 955.5 L1672.9 955.5 L1673.3 959.1 L1676.6 959.5 L1677.0 963.1 L1680.6 963.5 L1681.0 966.8 L1684.3 967.2 L1684.7 973.2 L1687.9 973.2 L1688.3 970.0 L1691.5 970.0 L1691.9 973.2 L1695.2 973.2 L1695.2 966.8 L1691.9 966.4 L1691.5 963.1 L1684.7 962.7 L1684.7 959.5 L1702.0 959.1 L1702.5 949.0 L1706.1 948.6 L1706.5 944.9 L1709.7 944.9Z" fill="#555" stroke="#555" stroke-width="7.5" stroke-linejoin="round" filter="url(#halo2)"/>
<path d="M1709.7 941.3 L1717.0 941.3 L1717.4 944.9 L1724.3 945.3 L1724.7 948.6 L1727.9 949.0 L1728.3 952.2 L1731.6 952.6 L1732.0 955.9 L1735.2 956.3 L1735.6 963.1 L1738.8 963.5 L1738.8 966.4 L1736.0 966.8 L1735.6 999.1 L1732.4 999.5 L1732.0 1006.4 L1728.3 1006.8 L1727.9 1010.0 L1724.7 1010.5 L1724.3 1012.1 L1721.1 1012.5 L1720.7 1015.7 L1710.1 1015.7 L1709.7 1012.1 L1706.5 1011.7 L1706.1 1008.4 L1702.9 1008.0 L1702.5 1004.8 L1699.2 1004.4 L1698.8 1001.2 L1687.9 1000.7 L1687.5 999.1 L1681.0 999.1 L1680.6 1004.8 L1677.4 1005.2 L1677.0 1008.4 L1673.3 1008.8 L1672.9 1011.7 L1659.2 1011.7 L1658.8 1008.4 L1651.5 1008.0 L1651.1 1004.8 L1647.9 1004.4 L1647.9 996.3 L1651.1 995.9 L1651.1 980.9 L1647.9 980.5 L1647.9 974.1 L1651.1 973.7 L1651.5 966.8 L1654.7 966.4 L1655.1 963.1 L1658.8 962.7 L1659.2 959.5 L1669.7 959.1 L1670.1 955.5 L1672.9 955.5 L1673.3 959.1 L1676.6 959.5 L1677.0 963.1 L1680.6 963.5 L1681.0 966.8 L1684.3 967.2 L1684.7 973.2 L1687.9 973.2 L1688.3 970.0 L1691.5 970.0 L1691.9 973.2 L1695.2 973.2 L1695.2 966.8 L1691.9 966.4 L1691.5 963.1 L1684.7 962.7 L1684.7 959.5 L1702.0 959.1 L1702.5 949.0 L1706.1 948.6 L1706.5 944.9 L1709.7 944.9Z" fill="#eff53c"/>
<g clip-path="url(#bc11)">
<path d="M1709.7 941.3 L1717.0 941.3 L1717.4 944.9 L1724.3 945.3 L1724.7 948.6 L1727.9 949.0 L1728.3 952.2 L1731.6 952.6 L1732.0 955.9 L1735.2 956.3 L1735.6 963.1 L1738.8 963.5 L1738.8 966.4 L1736.0 966.8 L1735.6 999.1 L1732.4 999.5 L1732.0 1006.4 L1728.3 1006.8 L1727.9 1010.0 L1724.7 1010.5 L1724.3 1012.1 L1721.1 1012.5 L1720.7 1015.7 L1710.1 1015.7 L1709.7 1012.1 L1706.5 1011.7 L1706.1 1008.4 L1702.9 1008.0 L1702.5 1004.8 L1699.2 1004.4 L1698.8 1001.2 L1687.9 1000.7 L1687.5 999.1 L1681.0 999.1 L1680.6 1004.8 L1677.4 1005.2 L1677.0 1008.4 L1673.3 1008.8 L1672.9 1011.7 L1659.2 1011.7 L1658.8 1008.4 L1651.5 1008.0 L1651.1 1004.8 L1647.9 1004.4 L1647.9 996.3 L1651.1 995.9 L1651.1 980.9 L1647.9 980.5 L1647.9 974.1 L1651.1 973.7 L1651.5 966.8 L1654.7 966.4 L1655.1 963.1 L1658.8 962.7 L1659.2 959.5 L1669.7 959.1 L1670.1 955.5 L1672.9 955.5 L1673.3 959.1 L1676.6 959.5 L1677.0 963.1 L1680.6 963.5 L1681.0 966.8 L1684.3 967.2 L1684.7 973.2 L1687.9 973.2 L1688.3 970.0 L1691.5 970.0 L1691.9 973.2 L1695.2 973.2 L1695.2 966.8 L1691.9 966.4 L1691.5 963.1 L1684.7 962.7 L1684.7 959.5 L1702.0 959.1 L1702.5 949.0 L1706.1 948.6 L1706.5 944.9 L1709.7 944.9Z" fill="#f08c28" transform="translate(1693.3 979.1) scale(0.86) translate(-1693.3 -979.1)" filter="url(#hb30)"/>
<ellipse cx="1667.7" cy="990.2" rx="14.6" ry="17.0" fill="#e9481e" opacity="0.95" filter="url(#hb20)"/>
<ellipse cx="1668.5" cy="999.9" rx="7.3" ry="5.7" fill="#e62a1c" opacity="0.9" filter="url(#hb20)"/>
<ellipse cx="1717.0" cy="981.3" rx="8.1" ry="4.4" fill="#e62a1c" opacity="0.95" filter="url(#hb20)"/>
<ellipse cx="1692.7" cy="984.6" rx="28.3" ry="8.1" fill="#ee7a24" opacity="0.8" filter="url(#hb20)"/>
<ellipse cx="1715.4" cy="958.7" rx="10.5" ry="12.1" fill="#f2ae30" opacity="0.8" filter="url(#hb20)"/>
<ellipse cx="1715.4" cy="998.3" rx="5.7" ry="4.9" fill="#f4ee3a" opacity="0.9" filter="url(#hb20)"/>
</g>
</g>
<clipPath id="mc12"><rect x="1772.8" y="933.8" width="137.2" height="102.0"/></clipPath>
<rect x="1772.80" y="933.80" width="137.20" height="102.00" fill="#484848" filter="url(#mn)"/>
<g clip-path="url(#mc12)">
<clipPath id="bc12"><path d="M1828.4 951.4 L1835.7 951.4 L1836.1 955.1 L1843.0 955.5 L1843.4 958.7 L1846.6 959.1 L1847.0 965.6 L1853.5 965.6 L1853.9 962.3 L1857.5 961.9 L1857.9 958.7 L1861.2 958.3 L1861.6 955.1 L1881.8 955.1 L1882.2 958.3 L1885.0 958.7 L1885.0 999.1 L1881.8 999.5 L1881.4 1003.2 L1878.6 1003.6 L1878.2 1006.4 L1872.1 1006.8 L1871.7 1010.0 L1847.0 1010.0 L1846.6 1013.3 L1839.7 1013.7 L1839.3 1017.3 L1825.2 1017.3 L1824.8 1013.7 L1814.3 1013.3 L1813.9 1010.0 L1806.6 1009.6 L1806.6 999.1 L1810.2 998.7 L1810.6 995.1 L1813.9 994.7 L1817.1 991.4 L1817.1 988.2 L1810.6 987.8 L1810.2 984.6 L1806.6 984.2 L1806.6 966.4 L1810.2 966.0 L1810.6 962.7 L1813.9 962.3 L1814.3 958.7 L1817.5 958.3 L1817.9 955.1 L1828.0 955.1Z"/></clipPath>
<path d="M1828.4 951.4 L1835.7 951.4 L1836.1 955.1 L1843.0 955.5 L1843.4 958.7 L1846.6 959.1 L1847.0 965.6 L1853.5 965.6 L1853.9 962.3 L1857.5 961.9 L1857.9 958.7 L1861.2 958.3 L1861.6 955.1 L1881.8 955.1 L1882.2 958.3 L1885.0 958.7 L1885.0 999.1 L1881.8 999.5 L1881.4 1003.2 L1878.6 1003.6 L1878.2 1006.4 L1872.1 1006.8 L1871.7 1010.0 L1847.0 1010.0 L1846.6 1013.3 L1839.7 1013.7 L1839.3 1017.3 L1825.2 1017.3 L1824.8 1013.7 L1814.3 1013.3 L1813.9 1010.0 L1806.6 1009.6 L1806.6 999.1 L1810.2 998.7 L1810.6 995.1 L1813.9 994.7 L1817.1 991.4 L1817.1 988.2 L1810.6 987.8 L1810.2 984.6 L1806.6 984.2 L1806.6 966.4 L1810.2 966.0 L1810.6 962.7 L1813.9 962.3 L1814.3 958.7 L1817.5 958.3 L1817.9 955.1 L1828.0 955.1Z" fill="none" stroke="#0c0c0c" stroke-width="12.5" stroke-linejoin="round" filter="url(#halo)" opacity="0.95"/>
<path d="M1828.4 951.4 L1835.7 951.4 L1836.1 955.1 L1843.0 955.5 L1843.4 958.7 L1846.6 959.1 L1847.0 965.6 L1853.5 965.6 L1853.9 962.3 L1857.5 961.9 L1857.9 958.7 L1861.2 958.3 L1861.6 955.1 L1881.8 955.1 L1882.2 958.3 L1885.0 958.7 L1885.0 999.1 L1881.8 999.5 L1881.4 1003.2 L1878.6 1003.6 L1878.2 1006.4 L1872.1 1006.8 L1871.7 1010.0 L1847.0 1010.0 L1846.6 1013.3 L1839.7 1013.7 L1839.3 1017.3 L1825.2 1017.3 L1824.8 1013.7 L1814.3 1013.3 L1813.9 1010.0 L1806.6 1009.6 L1806.6 999.1 L1810.2 998.7 L1810.6 995.1 L1813.9 994.7 L1817.1 991.4 L1817.1 988.2 L1810.6 987.8 L1810.2 984.6 L1806.6 984.2 L1806.6 966.4 L1810.2 966.0 L1810.6 962.7 L1813.9 962.3 L1814.3 958.7 L1817.5 958.3 L1817.9 955.1 L1828.0 955.1Z" fill="#555" stroke="#555" stroke-width="7.5" stroke-linejoin="round" filter="url(#halo2)"/>
<path d="M1828.4 951.4 L1835.7 951.4 L1836.1 955.1 L1843.0 955.5 L1843.4 958.7 L1846.6 959.1 L1847.0 965.6 L1853.5 965.6 L1853.9 962.3 L1857.5 961.9 L1857.9 958.7 L1861.2 958.3 L1861.6 955.1 L1881.8 955.1 L1882.2 958.3 L1885.0 958.7 L1885.0 999.1 L1881.8 999.5 L1881.4 1003.2 L1878.6 1003.6 L1878.2 1006.4 L1872.1 1006.8 L1871.7 1010.0 L1847.0 1010.0 L1846.6 1013.3 L1839.7 1013.7 L1839.3 1017.3 L1825.2 1017.3 L1824.8 1013.7 L1814.3 1013.3 L1813.9 1010.0 L1806.6 1009.6 L1806.6 999.1 L1810.2 998.7 L1810.6 995.1 L1813.9 994.7 L1817.1 991.4 L1817.1 988.2 L1810.6 987.8 L1810.2 984.6 L1806.6 984.2 L1806.6 966.4 L1810.2 966.0 L1810.6 962.7 L1813.9 962.3 L1814.3 958.7 L1817.5 958.3 L1817.9 955.1 L1828.0 955.1Z" fill="#eff53c"/>
<g clip-path="url(#bc12)">
<path d="M1828.4 951.4 L1835.7 951.4 L1836.1 955.1 L1843.0 955.5 L1843.4 958.7 L1846.6 959.1 L1847.0 965.6 L1853.5 965.6 L1853.9 962.3 L1857.5 961.9 L1857.9 958.7 L1861.2 958.3 L1861.6 955.1 L1881.8 955.1 L1882.2 958.3 L1885.0 958.7 L1885.0 999.1 L1881.8 999.5 L1881.4 1003.2 L1878.6 1003.6 L1878.2 1006.4 L1872.1 1006.8 L1871.7 1010.0 L1847.0 1010.0 L1846.6 1013.3 L1839.7 1013.7 L1839.3 1017.3 L1825.2 1017.3 L1824.8 1013.7 L1814.3 1013.3 L1813.9 1010.0 L1806.6 1009.6 L1806.6 999.1 L1810.2 998.7 L1810.6 995.1 L1813.9 994.7 L1817.1 991.4 L1817.1 988.2 L1810.6 987.8 L1810.2 984.6 L1806.6 984.2 L1806.6 966.4 L1810.2 966.0 L1810.6 962.7 L1813.9 962.3 L1814.3 958.7 L1817.5 958.3 L1817.9 955.1 L1828.0 955.1Z" fill="#e8341c" transform="translate(1838.8 981.3) scale(0.88) translate(-1838.8 -981.3)" filter="url(#hb26)"/>
<ellipse cx="1843.8" cy="982.1" rx="26.7" ry="18.6" fill="#e5281c" opacity="0.95" filter="url(#hb20)"/>
<ellipse cx="1863.2" cy="1005.6" rx="15.4" ry="3.2" fill="#f4ec3a" opacity="0.9" filter="url(#hb20)"/>
<ellipse cx="1875.3" cy="959.5" rx="7.3" ry="3.2" fill="#f2c434" opacity="0.8" filter="url(#hb20)"/>
</g>
</g>
<clipPath id="mc20"><rect x="1483.7" y="1083.3" width="137.3" height="102.5"/></clipPath>
<rect x="1483.70" y="1083.30" width="137.30" height="102.50" fill="#484848" filter="url(#mn)"/>
<g clip-path="url(#mc20)">
<clipPath id="bc20"><path d="M1553.2 1109.5 L1559.6 1109.5 L1560.0 1113.1 L1563.7 1113.5 L1564.1 1116.8 L1567.3 1117.2 L1567.7 1124.1 L1571.0 1124.5 L1571.4 1128.1 L1574.6 1128.5 L1575.0 1138.6 L1578.2 1139.0 L1578.2 1154.8 L1575.0 1155.2 L1574.6 1158.8 L1560.0 1158.8 L1559.6 1155.2 L1556.4 1154.8 L1556.0 1152.0 L1549.5 1152.0 L1549.1 1155.2 L1545.9 1155.6 L1545.5 1158.8 L1536.2 1158.8 L1535.8 1155.2 L1528.9 1154.8 L1528.5 1151.6 L1525.3 1151.2 L1524.9 1142.3 L1521.6 1141.9 L1521.6 1131.3 L1524.9 1130.9 L1525.3 1128.1 L1528.9 1127.7 L1529.3 1124.5 L1532.5 1124.1 L1535.8 1120.8 L1539.4 1120.4 L1539.8 1117.2 L1545.1 1116.8 L1545.5 1113.5 L1552.8 1113.1Z"/></clipPath>
<ellipse cx="1544.7" cy="1137.8" rx="37" ry="30.5" fill="#4a4a4a" stroke="#101010" stroke-width="6.5" filter="url(#halo)" opacity="0.95"/>
<path d="M1553.2 1109.5 L1559.6 1109.5 L1560.0 1113.1 L1563.7 1113.5 L1564.1 1116.8 L1567.3 1117.2 L1567.7 1124.1 L1571.0 1124.5 L1571.4 1128.1 L1574.6 1128.5 L1575.0 1138.6 L1578.2 1139.0 L1578.2 1154.8 L1575.0 1155.2 L1574.6 1158.8 L1560.0 1158.8 L1559.6 1155.2 L1556.4 1154.8 L1556.0 1152.0 L1549.5 1152.0 L1549.1 1155.2 L1545.9 1155.6 L1545.5 1158.8 L1536.2 1158.8 L1535.8 1155.2 L1528.9 1154.8 L1528.5 1151.6 L1525.3 1151.2 L1524.9 1142.3 L1521.6 1141.9 L1521.6 1131.3 L1524.9 1130.9 L1525.3 1128.1 L1528.9 1127.7 L1529.3 1124.5 L1532.5 1124.1 L1535.8 1120.8 L1539.4 1120.4 L1539.8 1117.2 L1545.1 1116.8 L1545.5 1113.5 L1552.8 1113.1Z" fill="none" stroke="#0c0c0c" stroke-width="9" stroke-linejoin="round" filter="url(#halo)" opacity="0.95"/>
<path d="M1553.2 1109.5 L1559.6 1109.5 L1560.0 1113.1 L1563.7 1113.5 L1564.1 1116.8 L1567.3 1117.2 L1567.7 1124.1 L1571.0 1124.5 L1571.4 1128.1 L1574.6 1128.5 L1575.0 1138.6 L1578.2 1139.0 L1578.2 1154.8 L1575.0 1155.2 L1574.6 1158.8 L1560.0 1158.8 L1559.6 1155.2 L1556.4 1154.8 L1556.0 1152.0 L1549.5 1152.0 L1549.1 1155.2 L1545.9 1155.6 L1545.5 1158.8 L1536.2 1158.8 L1535.8 1155.2 L1528.9 1154.8 L1528.5 1151.6 L1525.3 1151.2 L1524.9 1142.3 L1521.6 1141.9 L1521.6 1131.3 L1524.9 1130.9 L1525.3 1128.1 L1528.9 1127.7 L1529.3 1124.5 L1532.5 1124.1 L1535.8 1120.8 L1539.4 1120.4 L1539.8 1117.2 L1545.1 1116.8 L1545.5 1113.5 L1552.8 1113.1Z" fill="#555" stroke="#555" stroke-width="7.5" stroke-linejoin="round" filter="url(#halo2)"/>
<path d="M1553.2 1109.5 L1559.6 1109.5 L1560.0 1113.1 L1563.7 1113.5 L1564.1 1116.8 L1567.3 1117.2 L1567.7 1124.1 L1571.0 1124.5 L1571.4 1128.1 L1574.6 1128.5 L1575.0 1138.6 L1578.2 1139.0 L1578.2 1154.8 L1575.0 1155.2 L1574.6 1158.8 L1560.0 1158.8 L1559.6 1155.2 L1556.4 1154.8 L1556.0 1152.0 L1549.5 1152.0 L1549.1 1155.2 L1545.9 1155.6 L1545.5 1158.8 L1536.2 1158.8 L1535.8 1155.2 L1528.9 1154.8 L1528.5 1151.6 L1525.3 1151.2 L1524.9 1142.3 L1521.6 1141.9 L1521.6 1131.3 L1524.9 1130.9 L1525.3 1128.1 L1528.9 1127.7 L1529.3 1124.5 L1532.5 1124.1 L1535.8 1120.8 L1539.4 1120.4 L1539.8 1117.2 L1545.1 1116.8 L1545.5 1113.5 L1552.8 1113.1Z" fill="#eff53c"/>
<g clip-path="url(#bc20)">
<path d="M1553.2 1109.5 L1559.6 1109.5 L1560.0 1113.1 L1563.7 1113.5 L1564.1 1116.8 L1567.3 1117.2 L1567.7 1124.1 L1571.0 1124.5 L1571.4 1128.1 L1574.6 1128.5 L1575.0 1138.6 L1578.2 1139.0 L1578.2 1154.8 L1575.0 1155.2 L1574.6 1158.8 L1560.0 1158.8 L1559.6 1155.2 L1556.4 1154.8 L1556.0 1152.0 L1549.5 1152.0 L1549.1 1155.2 L1545.9 1155.6 L1545.5 1158.8 L1536.2 1158.8 L1535.8 1155.2 L1528.9 1154.8 L1528.5 1151.6 L1525.3 1151.2 L1524.9 1142.3 L1521.6 1141.9 L1521.6 1131.3 L1524.9 1130.9 L1525.3 1128.1 L1528.9 1127.7 L1529.3 1124.5 L1532.5 1124.1 L1535.8 1120.8 L1539.4 1120.4 L1539.8 1117.2 L1545.1 1116.8 L1545.5 1113.5 L1552.8 1113.1Z" fill="#f2b432" transform="translate(1549.5 1135.7) scale(0.82) translate(-1549.5 -1135.7)" filter="url(#hb32)"/>
<ellipse cx="1556.4" cy="1127.3" rx="9.7" ry="8.9" fill="#ee8428" opacity="0.95" filter="url(#hb20)"/>
<ellipse cx="1537.8" cy="1141.9" rx="8.9" ry="8.9" fill="#ee8a28" opacity="0.9" filter="url(#hb20)"/>
<ellipse cx="1546.7" cy="1133.8" rx="8.9" ry="5.7" fill="#ef8e2a" opacity="0.8" filter="url(#hb20)"/>
<ellipse cx="1554.8" cy="1146.7" rx="8.1" ry="7.3" fill="#f4ea3a" opacity="0.9" filter="url(#hb20)"/>
</g>
</g>
<clipPath id="mc21"><rect x="1631.4" y="1083.3" width="137.4" height="102.5"/></clipPath>
<rect x="1631.40" y="1083.30" width="137.40" height="102.50" fill="#484848" filter="url(#mn)"/>
<g clip-path="url(#mc21)">
<clipPath id="bc21"><path d="M1706.0 1100.2 L1713.7 1100.2 L1714.1 1104.2 L1717.4 1104.6 L1717.8 1111.1 L1720.6 1111.5 L1721.0 1114.8 L1724.2 1115.2 L1724.6 1118.4 L1727.9 1118.8 L1728.3 1122.0 L1731.5 1122.4 L1731.9 1126.1 L1735.1 1126.5 L1735.5 1129.7 L1738.8 1130.1 L1739.2 1143.9 L1735.5 1144.3 L1735.1 1151.2 L1731.9 1151.6 L1731.5 1154.4 L1721.0 1154.4 L1720.6 1151.2 L1717.4 1150.7 L1716.9 1147.9 L1706.4 1147.9 L1706.0 1151.2 L1702.8 1151.6 L1702.4 1154.4 L1682.6 1154.8 L1682.2 1158.4 L1675.3 1158.4 L1674.9 1154.8 L1668.0 1154.4 L1668.0 1133.4 L1671.2 1133.0 L1671.7 1129.7 L1678.1 1129.3 L1678.5 1126.1 L1689.9 1125.7 L1689.9 1122.4 L1686.6 1122.0 L1686.2 1118.8 L1683.0 1118.4 L1682.6 1111.5 L1678.9 1111.1 L1678.9 1107.9 L1686.2 1107.5 L1686.6 1104.2 L1705.6 1104.2Z"/></clipPath>
<path d="M1706.0 1100.2 L1713.7 1100.2 L1714.1 1104.2 L1717.4 1104.6 L1717.8 1111.1 L1720.6 1111.5 L1721.0 1114.8 L1724.2 1115.2 L1724.6 1118.4 L1727.9 1118.8 L1728.3 1122.0 L1731.5 1122.4 L1731.9 1126.1 L1735.1 1126.5 L1735.5 1129.7 L1738.8 1130.1 L1739.2 1143.9 L1735.5 1144.3 L1735.1 1151.2 L1731.9 1151.6 L1731.5 1154.4 L1721.0 1154.4 L1720.6 1151.2 L1717.4 1150.7 L1716.9 1147.9 L1706.4 1147.9 L1706.0 1151.2 L1702.8 1151.6 L1702.4 1154.4 L1682.6 1154.8 L1682.2 1158.4 L1675.3 1158.4 L1674.9 1154.8 L1668.0 1154.4 L1668.0 1133.4 L1671.2 1133.0 L1671.7 1129.7 L1678.1 1129.3 L1678.5 1126.1 L1689.9 1125.7 L1689.9 1122.4 L1686.6 1122.0 L1686.2 1118.8 L1683.0 1118.4 L1682.6 1111.5 L1678.9 1111.1 L1678.9 1107.9 L1686.2 1107.5 L1686.6 1104.2 L1705.6 1104.2Z" fill="none" stroke="#0c0c0c" stroke-width="12.5" stroke-linejoin="round" filter="url(#halo)" opacity="0.95"/>
<path d="M1706.0 1100.2 L1713.7 1100.2 L1714.1 1104.2 L1717.4 1104.6 L1717.8 1111.1 L1720.6 1111.5 L1721.0 1114.8 L1724.2 1115.2 L1724.6 1118.4 L1727.9 1118.8 L1728.3 1122.0 L1731.5 1122.4 L1731.9 1126.1 L1735.1 1126.5 L1735.5 1129.7 L1738.8 1130.1 L1739.2 1143.9 L1735.5 1144.3 L1735.1 1151.2 L1731.9 1151.6 L1731.5 1154.4 L1721.0 1154.4 L1720.6 1151.2 L1717.4 1150.7 L1716.9 1147.9 L1706.4 1147.9 L1706.0 1151.2 L1702.8 1151.6 L1702.4 1154.4 L1682.6 1154.8 L1682.2 1158.4 L1675.3 1158.4 L1674.9 1154.8 L1668.0 1154.4 L1668.0 1133.4 L1671.2 1133.0 L1671.7 1129.7 L1678.1 1129.3 L1678.5 1126.1 L1689.9 1125.7 L1689.9 1122.4 L1686.6 1122.0 L1686.2 1118.8 L1683.0 1118.4 L1682.6 1111.5 L1678.9 1111.1 L1678.9 1107.9 L1686.2 1107.5 L1686.6 1104.2 L1705.6 1104.2Z" fill="#555" stroke="#555" stroke-width="7.5" stroke-linejoin="round" filter="url(#halo2)"/>
<path d="M1706.0 1100.2 L1713.7 1100.2 L1714.1 1104.2 L1717.4 1104.6 L1717.8 1111.1 L1720.6 1111.5 L1721.0 1114.8 L1724.2 1115.2 L1724.6 1118.4 L1727.9 1118.8 L1728.3 1122.0 L1731.5 1122.4 L1731.9 1126.1 L1735.1 1126.5 L1735.5 1129.7 L1738.8 1130.1 L1739.2 1143.9 L1735.5 1144.3 L1735.1 1151.2 L1731.9 1151.6 L1731.5 1154.4 L1721.0 1154.4 L1720.6 1151.2 L1717.4 1150.7 L1716.9 1147.9 L1706.4 1147.9 L1706.0 1151.2 L1702.8 1151.6 L1702.4 1154.4 L1682.6 1154.8 L1682.2 1158.4 L1675.3 1158.4 L1674.9 1154.8 L1668.0 1154.4 L1668.0 1133.4 L1671.2 1133.0 L1671.7 1129.7 L1678.1 1129.3 L1678.5 1126.1 L1689.9 1125.7 L1689.9 1122.4 L1686.6 1122.0 L1686.2 1118.8 L1683.0 1118.4 L1682.6 1111.5 L1678.9 1111.1 L1678.9 1107.9 L1686.2 1107.5 L1686.6 1104.2 L1705.6 1104.2Z" fill="#eff53c"/>
<g clip-path="url(#bc21)">
<path d="M1706.0 1100.2 L1713.7 1100.2 L1714.1 1104.2 L1717.4 1104.6 L1717.8 1111.1 L1720.6 1111.5 L1721.0 1114.8 L1724.2 1115.2 L1724.6 1118.4 L1727.9 1118.8 L1728.3 1122.0 L1731.5 1122.4 L1731.9 1126.1 L1735.1 1126.5 L1735.5 1129.7 L1738.8 1130.1 L1739.2 1143.9 L1735.5 1144.3 L1735.1 1151.2 L1731.9 1151.6 L1731.5 1154.4 L1721.0 1154.4 L1720.6 1151.2 L1717.4 1150.7 L1716.9 1147.9 L1706.4 1147.9 L1706.0 1151.2 L1702.8 1151.6 L1702.4 1154.4 L1682.6 1154.8 L1682.2 1158.4 L1675.3 1158.4 L1674.9 1154.8 L1668.0 1154.4 L1668.0 1133.4 L1671.2 1133.0 L1671.7 1129.7 L1678.1 1129.3 L1678.5 1126.1 L1689.9 1125.7 L1689.9 1122.4 L1686.6 1122.0 L1686.2 1118.8 L1683.0 1118.4 L1682.6 1111.5 L1678.9 1111.1 L1678.9 1107.9 L1686.2 1107.5 L1686.6 1104.2 L1705.6 1104.2Z" fill="#f3c034" transform="translate(1705.2 1129.9) scale(0.82) translate(-1705.2 -1129.9)" filter="url(#hb32)"/>
<ellipse cx="1694.7" cy="1114.4" rx="7.3" ry="6.5" fill="#ee8a28" opacity="0.95" filter="url(#hb20)"/>
<ellipse cx="1715.7" cy="1124.1" rx="11.3" ry="16.2" fill="#f09a2c" opacity="0.85" filter="url(#hb20)"/>
<ellipse cx="1686.6" cy="1145.1" rx="11.3" ry="7.3" fill="#f09228" opacity="0.9" filter="url(#hb20)"/>
<ellipse cx="1694.7" cy="1147.5" rx="2.8" ry="3.2" fill="#e8481e" opacity="1" filter="url(#hb20)"/>
<ellipse cx="1717.4" cy="1145.1" rx="7.3" ry="4.9" fill="#f4ee3a" opacity="0.9" filter="url(#hb20)"/>
</g>
</g>
<clipPath id="mc22"><rect x="1776.9" y="1083.3" width="134.9" height="102.5"/></clipPath>
<rect x="1776.90" y="1083.30" width="134.90" height="102.50" fill="#484848" filter="url(#mn2)"/>
<g clip-path="url(#mc22)">
<clipPath id="bc22"><path d="M1838.9 1105.5 L1842.5 1105.5 L1842.9 1109.1 L1853.9 1109.1 L1854.3 1112.3 L1857.1 1112.3 L1857.5 1109.1 L1868.4 1109.1 L1868.8 1116.0 L1870.0 1116.4 L1870.4 1119.6 L1873.7 1120.0 L1873.7 1130.1 L1870.4 1130.5 L1870.0 1152.4 L1868.8 1152.8 L1868.4 1159.6 L1861.1 1160.0 L1860.7 1163.3 L1850.2 1163.3 L1849.8 1160.0 L1846.6 1159.6 L1846.2 1156.4 L1842.9 1156.0 L1842.5 1152.8 L1832.0 1152.4 L1831.6 1149.1 L1821.1 1148.7 L1820.7 1145.5 L1817.1 1145.1 L1816.7 1141.9 L1813.4 1141.4 L1813.0 1138.2 L1809.8 1137.8 L1809.8 1131.7 L1824.3 1131.3 L1824.7 1133.8 L1835.3 1133.8 L1835.7 1130.5 L1842.5 1130.1 L1842.9 1126.9 L1849.8 1126.5 L1850.2 1123.2 L1853.0 1122.8 L1853.0 1116.4 L1835.3 1116.0 L1835.3 1109.1 L1838.5 1109.1Z"/></clipPath>
<path d="M1838.9 1105.5 L1842.5 1105.5 L1842.9 1109.1 L1853.9 1109.1 L1854.3 1112.3 L1857.1 1112.3 L1857.5 1109.1 L1868.4 1109.1 L1868.8 1116.0 L1870.0 1116.4 L1870.4 1119.6 L1873.7 1120.0 L1873.7 1130.1 L1870.4 1130.5 L1870.0 1152.4 L1868.8 1152.8 L1868.4 1159.6 L1861.1 1160.0 L1860.7 1163.3 L1850.2 1163.3 L1849.8 1160.0 L1846.6 1159.6 L1846.2 1156.4 L1842.9 1156.0 L1842.5 1152.8 L1832.0 1152.4 L1831.6 1149.1 L1821.1 1148.7 L1820.7 1145.5 L1817.1 1145.1 L1816.7 1141.9 L1813.4 1141.4 L1813.0 1138.2 L1809.8 1137.8 L1809.8 1131.7 L1824.3 1131.3 L1824.7 1133.8 L1835.3 1133.8 L1835.7 1130.5 L1842.5 1130.1 L1842.9 1126.9 L1849.8 1126.5 L1850.2 1123.2 L1853.0 1122.8 L1853.0 1116.4 L1835.3 1116.0 L1835.3 1109.1 L1838.5 1109.1Z" fill="none" stroke="#0c0c0c" stroke-width="12.5" stroke-linejoin="round" filter="url(#halo)" opacity="0.95"/>
<path d="M1838.9 1105.5 L1842.5 1105.5 L1842.9 1109.1 L1853.9 1109.1 L1854.3 1112.3 L1857.1 1112.3 L1857.5 1109.1 L1868.4 1109.1 L1868.8 1116.0 L1870.0 1116.4 L1870.4 1119.6 L1873.7 1120.0 L1873.7 1130.1 L1870.4 1130.5 L1870.0 1152.4 L1868.8 1152.8 L1868.4 1159.6 L1861.1 1160.0 L1860.7 1163.3 L1850.2 1163.3 L1849.8 1160.0 L1846.6 1159.6 L1846.2 1156.4 L1842.9 1156.0 L1842.5 1152.8 L1832.0 1152.4 L1831.6 1149.1 L1821.1 1148.7 L1820.7 1145.5 L1817.1 1145.1 L1816.7 1141.9 L1813.4 1141.4 L1813.0 1138.2 L1809.8 1137.8 L1809.8 1131.7 L1824.3 1131.3 L1824.7 1133.8 L1835.3 1133.8 L1835.7 1130.5 L1842.5 1130.1 L1842.9 1126.9 L1849.8 1126.5 L1850.2 1123.2 L1853.0 1122.8 L1853.0 1116.4 L1835.3 1116.0 L1835.3 1109.1 L1838.5 1109.1Z" fill="#555" stroke="#555" stroke-width="7.5" stroke-linejoin="round" filter="url(#halo2)"/>
<path d="M1838.9 1105.5 L1842.5 1105.5 L1842.9 1109.1 L1853.9 1109.1 L1854.3 1112.3 L1857.1 1112.3 L1857.5 1109.1 L1868.4 1109.1 L1868.8 1116.0 L1870.0 1116.4 L1870.4 1119.6 L1873.7 1120.0 L1873.7 1130.1 L1870.4 1130.5 L1870.0 1152.4 L1868.8 1152.8 L1868.4 1159.6 L1861.1 1160.0 L1860.7 1163.3 L1850.2 1163.3 L1849.8 1160.0 L1846.6 1159.6 L1846.2 1156.4 L1842.9 1156.0 L1842.5 1152.8 L1832.0 1152.4 L1831.6 1149.1 L1821.1 1148.7 L1820.7 1145.5 L1817.1 1145.1 L1816.7 1141.9 L1813.4 1141.4 L1813.0 1138.2 L1809.8 1137.8 L1809.8 1131.7 L1824.3 1131.3 L1824.7 1133.8 L1835.3 1133.8 L1835.7 1130.5 L1842.5 1130.1 L1842.9 1126.9 L1849.8 1126.5 L1850.2 1123.2 L1853.0 1122.8 L1853.0 1116.4 L1835.3 1116.0 L1835.3 1109.1 L1838.5 1109.1Z" fill="#eff53c"/>
<g clip-path="url(#bc22)">
<path d="M1838.9 1105.5 L1842.5 1105.5 L1842.9 1109.1 L1853.9 1109.1 L1854.3 1112.3 L1857.1 1112.3 L1857.5 1109.1 L1868.4 1109.1 L1868.8 1116.0 L1870.0 1116.4 L1870.4 1119.6 L1873.7 1120.0 L1873.7 1130.1 L1870.4 1130.5 L1870.0 1152.4 L1868.8 1152.8 L1868.4 1159.6 L1861.1 1160.0 L1860.7 1163.3 L1850.2 1163.3 L1849.8 1160.0 L1846.6 1159.6 L1846.2 1156.4 L1842.9 1156.0 L1842.5 1152.8 L1832.0 1152.4 L1831.6 1149.1 L1821.1 1148.7 L1820.7 1145.5 L1817.1 1145.1 L1816.7 1141.9 L1813.4 1141.4 L1813.0 1138.2 L1809.8 1137.8 L1809.8 1131.7 L1824.3 1131.3 L1824.7 1133.8 L1835.3 1133.8 L1835.7 1130.5 L1842.5 1130.1 L1842.9 1126.9 L1849.8 1126.5 L1850.2 1123.2 L1853.0 1122.8 L1853.0 1116.4 L1835.3 1116.0 L1835.3 1109.1 L1838.5 1109.1Z" fill="#f2e83a" transform="translate(1844.9 1133.0) scale(0.8) translate(-1844.9 -1133.0)" filter="url(#hb30)"/>
<ellipse cx="1862.4" cy="1129.7" rx="6.1" ry="5.7" fill="#f0b430" opacity="0.9" filter="url(#hb20)"/>
<ellipse cx="1851.8" cy="1148.3" rx="6.5" ry="5.7" fill="#f1c434" opacity="0.85" filter="url(#hb20)"/>
<ellipse cx="1838.9" cy="1143.5" rx="4.9" ry="3.6" fill="#f1c836" opacity="0.8" filter="url(#hb20)"/>
</g>
</g>
<clipPath id="mall"><rect x="1480.5" y="781.8" width="137.5" height="102.0"/><rect x="1627" y="781.8" width="137.5" height="102.0"/><rect x="1773.8" y="781.8" width="137.5" height="102.0"/><rect x="1480.3" y="933.8" width="136.5" height="102.0"/><rect x="1626" y="933.8" width="137.3" height="102.0"/><rect x="1772.8" y="933.8" width="137.2" height="102.0"/><rect x="1483.7" y="1083.3" width="137.3" height="102.5"/><rect x="1631.4" y="1083.3" width="137.4" height="102.5"/><rect x="1776.9" y="1083.3" width="134.9" height="102.5"/></clipPath><g clip-path="url(#mall)">
<ellipse cx="1690" cy="786" rx="14" ry="4.5" fill="#1c1c1c" opacity="0.8" filter="url(#halo)"/>
<ellipse cx="1545" cy="883" rx="10" ry="3" fill="#222" opacity="0.6" filter="url(#halo)"/>
<ellipse cx="1553" cy="784" rx="8" ry="2.5" fill="#333" opacity="0.5" filter="url(#halo)"/>
<ellipse cx="1530" cy="1033" rx="9" ry="4" fill="#2a2a2a" opacity="0.7" filter="url(#halo)"/>
<ellipse cx="1683" cy="1034" rx="4" ry="3" fill="#e8e83a" opacity="0.9" filter="url(#halo)"/>
<ellipse cx="1560" cy="1085" rx="10" ry="2.5" fill="#2a2a2a" opacity="0.6" filter="url(#halo)"/>
<ellipse cx="1694" cy="1182" rx="20" ry="4" fill="#8a8a8a" opacity="0.7" filter="url(#halo)"/>
<ellipse cx="1715" cy="1085" rx="10" ry="2.5" fill="#2a2a2a" opacity="0.7" filter="url(#halo)"/>
<ellipse cx="1842" cy="1092" rx="9" ry="4" fill="#2a2a2a" opacity="0.6" filter="url(#halo)"/>
</g>
<rect x="1937.50" y="777.50" width="12.50" height="438.50" fill="url(#cbar)" />
<line x1="1937.30" y1="776.80" x2="1937.30" y2="1216.50" stroke="#666" stroke-width="0.8" />
<line x1="1950.00" y1="777.50" x2="1960.00" y2="777.50" stroke="#111" stroke-width="1.5" />
<line x1="1950.00" y1="806.74" x2="1960.00" y2="806.74" stroke="#111" stroke-width="1.5" />
<line x1="1950.00" y1="835.98" x2="1960.00" y2="835.98" stroke="#111" stroke-width="1.5" />
<line x1="1950.00" y1="865.22" x2="1960.00" y2="865.22" stroke="#111" stroke-width="1.5" />
<line x1="1950.00" y1="894.46" x2="1960.00" y2="894.46" stroke="#111" stroke-width="1.5" />
<line x1="1950.00" y1="923.70" x2="1960.00" y2="923.70" stroke="#111" stroke-width="1.5" />
<line x1="1950.00" y1="952.94" x2="1960.00" y2="952.94" stroke="#111" stroke-width="1.5" />
<line x1="1950.00" y1="982.18" x2="1960.00" y2="982.18" stroke="#111" stroke-width="1.5" />
<line x1="1950.00" y1="1011.42" x2="1960.00" y2="1011.42" stroke="#111" stroke-width="1.5" />
<line x1="1950.00" y1="1040.66" x2="1960.00" y2="1040.66" stroke="#111" stroke-width="1.5" />
<line x1="1950.00" y1="1069.90" x2="1960.00" y2="1069.90" stroke="#111" stroke-width="1.5" />
<line x1="1950.00" y1="1099.14" x2="1960.00" y2="1099.14" stroke="#111" stroke-width="1.5" />
<line x1="1950.00" y1="1128.38" x2="1960.00" y2="1128.38" stroke="#111" stroke-width="1.5" />
<line x1="1950.00" y1="1157.62" x2="1960.00" y2="1157.62" stroke="#111" stroke-width="1.5" />
<line x1="1950.00" y1="1186.86" x2="1960.00" y2="1186.86" stroke="#111" stroke-width="1.5" />
<line x1="1950.00" y1="1216.10" x2="1960.00" y2="1216.10" stroke="#111" stroke-width="1.5" />
<text x="0" y="0" font-size="19.3" fill="#111" text-anchor="middle" transform="translate(1980.00 769.50) rotate(-90)" >1.0</text>
<text x="0" y="0" font-size="19.3" fill="#111" text-anchor="middle" transform="translate(1980.00 916.30) rotate(-90)" >2.0</text>
<text x="0" y="0" font-size="19.3" fill="#111" text-anchor="middle" transform="translate(1980.00 1063.00) rotate(-90)" >3.0</text>
<text x="0" y="0" font-size="19.3" fill="#111" text-anchor="middle" transform="translate(1980.00 1208.00) rotate(-90)" >4.0</text>
<text x="0" y="0" font-size="19.3" fill="#111" text-anchor="middle" transform="translate(1980.00 990.00) rotate(-90)" >x10<tspan font-size="11.5" dy="-7">8</tspan></text>
<text x="1599.00" y="1220.30" font-size="20.6" fill="#111" text-anchor="middle" >Radiant Efficient</text>
<text x="1589.30" y="1244.80" font-size="20.6" fill="#111" text-anchor="middle" >p/sec/cm<tspan font-size="12" dy="-7.5">2</tspan><tspan dy="7.5">/sr</tspan></text>
<line x1="1529.50" y1="1250.30" x2="1640.00" y2="1250.30" stroke="#111" stroke-width="1.3" />
<text x="1585.30" y="1266.80" font-size="20.6" fill="#111" text-anchor="middle" >µW/cm<tspan font-size="12" dy="-7.5">2</tspan></text>
<text x="1520.50" y="1258.00" font-size="20" fill="#111" >(</text>
<text x="1643.50" y="1258.00" font-size="20" fill="#111" >)</text>
<rect x="1693.30" y="1205.00" width="151.70" height="89.50" fill="#fff" stroke="#111" stroke-width="1.6" />
<text x="1703.50" y="1231.50" font-size="20.6" fill="#111" >Color Scale</text>
<text x="1703.50" y="1255.30" font-size="20.6" fill="#111" >Min = 9.00e7</text>
<text x="1703.00" y="1279.00" font-size="20.6" fill="#111" >Max = 4.00e8</text>
<text x="0" y="0" font-size="26.3" fill="#111" font-weight="bold" transform="translate(3.00 31.90) scale(1.05 1)" >a</text>
<text x="0" y="0" font-size="26.3" fill="#111" font-weight="bold" transform="translate(410.50 31.90) scale(1.05 1)" >b</text>
<text x="0" y="0" font-size="26.3" fill="#111" font-weight="bold" transform="translate(657.50 31.90) scale(1.05 1)" >c</text>
<text x="0" y="0" font-size="26.3" fill="#111" font-weight="bold" transform="translate(973.50 31.90) scale(1.05 1)" >d</text>
<text x="0" y="0" font-size="26.3" fill="#111" font-weight="bold" transform="translate(1444.00 31.90) scale(1.05 1)" >f</text>
<text x="0" y="0" font-size="26.3" fill="#111" font-weight="bold" transform="translate(2.50 357.20) scale(1.05 1)" >e</text>
<text x="0" y="0" font-size="26.3" fill="#111" font-weight="bold" transform="translate(1440.50 357.70) scale(1.05 1)" >g</text>
<text x="0" y="0" font-size="26.3" fill="#111" font-weight="bold" transform="translate(1712.00 357.70) scale(1.05 1)" >h</text>
<text x="0" y="0" font-size="26.3" fill="#111" font-weight="bold" transform="translate(3.50 791.90) scale(1.05 1)" >i</text>
<text x="0" y="0" font-size="26.3" fill="#111" font-weight="bold" transform="translate(3.00 922.90) scale(1.05 1)" >j</text>
<text x="0" y="0" font-size="26.3" fill="#111" font-weight="bold" transform="translate(366.00 922.90) scale(1.05 1)" >k</text>
<text x="0" y="0" font-size="26.3" fill="#111" font-weight="bold" transform="translate(653.50 791.90) scale(1.05 1)" >l</text>
<text x="0" y="0" font-size="26.3" fill="#111" font-weight="bold" transform="translate(1436.50 791.70) scale(1.05 1)" >m</text>
</svg>
</body></html>
